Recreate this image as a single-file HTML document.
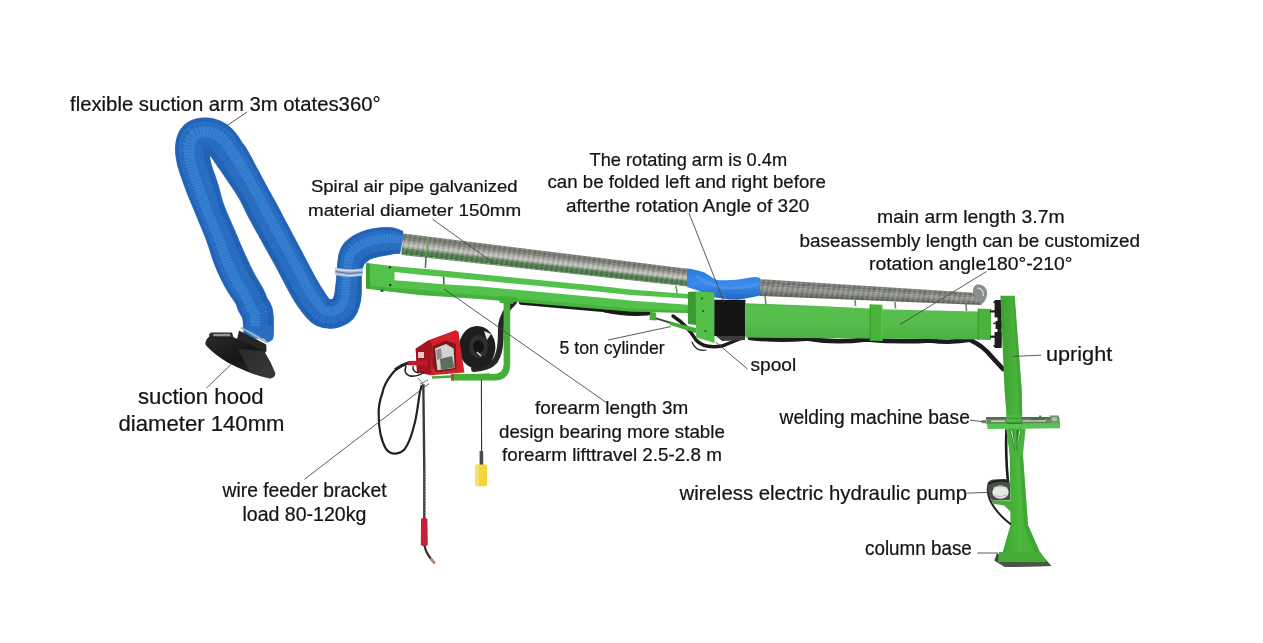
<!DOCTYPE html>
<html lang="en">
<head>
<meta charset="utf-8">
<title>Welding boom arm diagram</title>
<style>
html,body{margin:0;padding:0;background:#fff;overflow:hidden;}
svg{display:block;will-change:transform;}
text{font-family:"Liberation Sans","DejaVu Sans",sans-serif;fill:#141414;stroke:#141414;stroke-width:0.22px;}
.ld{stroke:#4a4a4a;stroke-width:0.9;fill:none;}
</style>
</head>
<body>
<svg width="1263" height="643" viewBox="0 0 1263 643">
<defs>
<linearGradient id="gpipe" x1="0" y1="0" x2="0" y2="1">
<stop offset="0" stop-color="#8e908a"/><stop offset="0.2" stop-color="#bcbcb3"/><stop offset="0.48" stop-color="#a6a9a0"/><stop offset="0.72" stop-color="#7e877a"/><stop offset="0.9" stop-color="#5f7360"/><stop offset="1" stop-color="#708872"/>
</linearGradient>
<linearGradient id="garm" x1="0" y1="0" x2="0" y2="1">
<stop offset="0" stop-color="#4db446"/><stop offset="0.08" stop-color="#58c04f"/><stop offset="0.6" stop-color="#54bc4b"/><stop offset="1" stop-color="#49b041"/>
</linearGradient>
<linearGradient id="gcol" x1="0" y1="0" x2="1" y2="0">
<stop offset="0" stop-color="#3c9f31"/><stop offset="0.45" stop-color="#4cb83c"/><stop offset="1" stop-color="#44ad37"/>
</linearGradient>
<linearGradient id="gblue" x1="0" y1="0" x2="0" y2="1">
<stop offset="0" stop-color="#2a78dc"/><stop offset="0.5" stop-color="#3a8cec"/><stop offset="1" stop-color="#2467c4"/>
</linearGradient>
<linearGradient id="ghood" x1="0" y1="0" x2="1" y2="1">
<stop offset="0" stop-color="#2a2a2a"/><stop offset="0.5" stop-color="#161616"/><stop offset="1" stop-color="#333"/>
</linearGradient>
<pattern id="spiral" width="5" height="30" patternUnits="userSpaceOnUse" patternTransform="rotate(12)">
<rect x="0" y="0" width="1.1" height="30" fill="#4a4e46" fill-opacity="0.22"/>
<rect x="2.4" y="0" width="0.9" height="30" fill="#f0f0ea" fill-opacity="0.25"/>
</pattern>
</defs>
<rect width="1263" height="643" fill="#fff"/>

<!-- ===== black cables behind arm ===== -->
<g fill="none" stroke="#1b1b1b" stroke-linecap="round">
<path d="M521 302.5 L560 306 L600 309.6 L630 312 L650 313" stroke-width="4.4"/>
<path d="M605 311 Q625 315.5 647 314" stroke-width="3.2"/>
<path d="M673 316 Q688 326 696 340 Q704 349 722 346 L742 338" stroke-width="3.4"/>
<path d="M692 342 Q696 352 706 350" stroke-width="1.2"/>
<path d="M750 338 Q780 341 806 338.6 Q835 343.6 866 339.4 Q900 342.6 930 340.4 Q950 343.4 972 339.6" stroke-width="4.6"/>
<path d="M971 340.5 Q983 346 991 356 L1003 369" stroke-width="4.6"/>
<path d="M514 302 Q503 312 501 325 L500.6 340 Q500 354 495 361 Q489 368 474 369" stroke-width="5.8" stroke="#262626"/>
<path d="M1006.4 430 Q1005.4 455 1008 482" stroke-width="2.6"/>

</g>

<!-- ===== galvanized pipe 1 ===== -->
<g id="pipe1">
<polygon points="401.6,233.2 687.5,268.7 687.5,270.5 401.6,235.4" fill="#80837c"/>
<polygon points="401.6,234.9 687.5,270.1 687.5,272.6 401.6,238.0" fill="#70746d"/>
<polygon points="401.6,237.6 687.5,272.3 687.5,274.4 401.6,240.2" fill="#7e817a"/>
<polygon points="401.6,239.7 687.5,274.0 687.5,276.2 401.6,242.4" fill="#9a9c96"/>
<polygon points="401.6,241.9 687.5,275.8 687.5,278.0 401.6,244.5" fill="#b4b6b0"/>
<polygon points="401.6,244.1 687.5,277.6 687.5,279.4 401.6,246.3" fill="#c2c4bf"/>
<polygon points="401.6,245.8 687.5,279.0 687.5,280.6 401.6,247.8" fill="#a3ad9f"/>
<polygon points="401.6,247.4 687.5,280.3 687.5,281.9 401.6,249.3" fill="#6b8a68"/>
<polygon points="401.6,248.9 687.5,281.5 687.5,284.4 401.6,252.4" fill="#4b774a"/>
<polygon points="401.6,251.9 687.5,284.0 687.5,285.8 401.6,254.1" fill="#437043"/>
<polygon points="401.6,253.7 687.5,285.4 687.5,286.5 401.6,255.0" fill="#6a8f69"/>
<polygon points="401.6,233.2 687.5,268.7 687.5,286.5 401.6,255.0" fill="url(#spiral)"/>
</g>
<!-- pipe 2 -->
<g id="pipe2">
<polygon points="760.0,279.2 981.5,293.3 981.5,294.7 760.0,281.2" fill="#7b7e78"/>
<polygon points="760.0,280.9 981.5,294.5 981.5,296.5 760.0,283.7" fill="#6e716b"/>
<polygon points="760.0,283.4 981.5,296.2 981.5,298.2 760.0,286.3" fill="#7f827c"/>
<polygon points="760.0,285.9 981.5,298.0 981.5,300.0 760.0,288.8" fill="#92958f"/>
<polygon points="760.0,288.4 981.5,299.7 981.5,301.7 760.0,291.3" fill="#8a8d87"/>
<polygon points="760.0,291.0 981.5,301.5 981.5,303.5 760.0,293.8" fill="#70746e"/>
<polygon points="760.0,293.5 981.5,303.2 981.5,305.0 760.0,296.0" fill="#5f645e"/>
<polygon points="760.0,279.2 981.5,293.3 981.5,305.0 760.0,296.0" fill="url(#spiral)"/>
</g>
<g id="pipe2end">
<path d="M973 293 Q972.4 285.4 977.6 284.2 Q986.6 284.4 987.2 293.5 Q986.6 300.6 981.5 304.4 L978 301 Z" fill="#8b8f8c"/>
<path d="M977.5 288 Q983 288 983.5 296" fill="none" stroke="#e6e8e6" stroke-width="1.2"/>
</g>
<!-- pipe supports -->
<g stroke="#6f8a6b" stroke-width="1.6" fill="none">
<line x1="765" y1="296" x2="766" y2="304"/><line x1="855" y1="300" x2="855.5" y2="306"/><line x1="895" y1="302" x2="895.5" y2="308.5"/><line x1="966" y1="304" x2="966.5" y2="311"/>
</g>
<g stroke="#4db53c" stroke-width="1.6" fill="none">
<line x1="428.6" y1="237" x2="426" y2="256" stroke-width="1.3"/><line x1="426" y1="256" x2="425.4" y2="268" stroke="#4a6a48" stroke-width="1.5"/><line x1="676" y1="286" x2="677" y2="293"/>
</g>

<!-- blue connector -->
<path d="M687 268.4 Q690 268.6 693.3 269.4 Q699 270.4 704 272.3 L710 276 Q713 278.6 716.2 279.8 Q721 280.6 726 280.2 L736.7 279.8 L750.7 277.4 Q756 276.6 760.2 278 L760.2 295.6 Q756 296.4 750.7 297.5 Q744 299 736.7 299.4 Q729 299.4 722.7 298.5 Q715 297.8 708.7 296.1 Q703 294 699.3 291 Q694 289.2 687 287 Z" fill="url(#gblue)"/>
<path d="M696 276 Q712 288 730 288 Q745 288 757 285" fill="none" stroke="#5a9cf0" stroke-opacity="0.55" stroke-width="3"/>


<g id="hose">
<path d="M244.0 337.9 244.0 336.7 273.1 336.9 273.0 338.1ZM244.0 336.7 243.9 335.4 273.1 335.8 273.1 336.9ZM243.9 335.4 243.9 334.2 273.2 334.7 273.1 335.8ZM243.9 334.2 243.9 333.0 273.3 333.5 273.2 334.7ZM243.9 333.0 243.8 331.9 273.3 332.3 273.3 333.5ZM243.8 331.9 243.8 330.8 273.4 331.0 273.3 332.3ZM243.8 330.8 243.7 329.8 273.4 329.6 273.4 331.0ZM243.7 329.8 243.7 328.7 273.5 328.2 273.4 329.6ZM243.7 328.7 243.6 327.7 273.5 326.8 273.5 328.2ZM243.6 327.7 243.5 326.6 273.5 325.4 273.5 326.8ZM243.5 326.6 243.4 325.3 273.5 324.1 273.5 325.4ZM243.4 325.3 243.3 324.0 273.5 322.7 273.5 324.1ZM243.3 324.0 243.2 322.6 273.5 321.2 273.5 322.7ZM243.2 322.6 243.1 321.3 273.5 319.7 273.5 321.2ZM243.1 321.3 242.9 320.1 273.4 318.0 273.5 319.7ZM242.9 320.1 242.8 319.0 273.3 316.3 273.4 318.0ZM242.8 319.0 242.6 318.1 273.2 314.6 273.3 316.3ZM242.6 318.1 242.5 317.3 273.0 312.7 273.2 314.6ZM242.5 317.3 242.4 316.8 272.7 310.8 273.0 312.7ZM242.4 316.8 242.3 316.7 272.3 308.7 272.7 310.8ZM242.3 316.7 242.4 316.9 271.6 306.5 272.3 308.7ZM242.4 316.9 242.5 317.3 270.7 304.3 271.6 306.5ZM242.5 317.3 242.6 317.5 269.8 302.5 270.7 304.3ZM242.6 317.5 242.6 317.6 268.9 300.9 269.8 302.5ZM242.6 317.6 242.5 317.4 268.1 299.7 268.9 300.9ZM242.5 317.4 242.2 316.9 267.5 298.9 268.1 299.7ZM242.2 316.9 241.6 316.1 267.1 298.3 267.5 298.9ZM241.6 316.1 240.8 314.9 266.9 298.1 267.1 298.3ZM240.8 314.9 239.9 313.4 266.9 298.1 266.9 298.1ZM239.9 313.4 239.0 311.8 267.0 298.2 266.9 298.1ZM239.0 311.8 238.3 310.2 267.0 298.2 267.0 298.2ZM238.3 310.2 237.8 308.8 266.9 298.1 267.0 298.2ZM237.8 308.8 237.4 307.6 266.8 297.8 266.9 298.1ZM237.4 307.6 237.1 306.7 266.6 297.2 266.8 297.8ZM237.1 306.7 236.9 306.1 266.3 296.3 266.6 297.2ZM236.9 306.1 236.8 305.6 265.9 295.2 266.3 296.3ZM236.8 305.6 236.6 305.2 265.4 293.8 265.9 295.2ZM236.6 305.2 236.5 304.8 264.7 292.3 265.4 293.8ZM236.5 304.8 236.2 304.3 264.0 290.6 264.7 292.3ZM236.2 304.3 235.9 303.7 263.1 288.9 264.0 290.6ZM235.9 303.7 235.4 302.9 262.2 287.1 263.1 288.9ZM235.4 302.9 234.7 301.8 261.2 285.4 262.2 287.1ZM234.7 301.8 233.8 300.5 260.1 283.7 261.2 285.4ZM233.8 300.5 232.8 299.0 259.1 282.0 260.1 283.7ZM232.8 299.0 231.6 297.4 258.1 280.3 259.1 282.0ZM231.6 297.4 230.5 295.7 257.1 278.6 258.1 280.3ZM230.5 295.7 229.2 293.8 256.1 277.0 257.1 278.6ZM229.2 293.8 227.9 291.8 255.2 275.4 256.1 277.0ZM227.9 291.8 226.7 289.7 254.4 273.9 255.2 275.4ZM226.7 289.7 225.4 287.6 253.6 272.4 254.4 273.9ZM225.4 287.6 224.3 285.6 252.7 270.7 253.6 272.4ZM224.3 285.6 223.3 283.6 251.9 269.0 252.7 270.7ZM223.3 283.6 222.2 281.6 251.0 267.3 251.9 269.0ZM222.2 281.6 221.2 279.5 250.1 265.5 251.0 267.3ZM221.2 279.5 220.2 277.5 249.3 263.6 250.1 265.5ZM220.2 277.5 219.2 275.3 248.4 261.8 249.3 263.6ZM219.2 275.3 218.2 273.1 247.5 259.8 248.4 261.8ZM218.2 273.1 217.2 270.9 246.6 257.9 247.5 259.8ZM217.2 270.9 216.2 268.6 245.7 255.8 246.6 257.9ZM216.2 268.6 215.3 266.2 244.7 253.8 245.7 255.8ZM215.3 266.2 214.3 263.7 243.8 251.7 244.7 253.8ZM214.3 263.7 213.3 261.1 242.9 249.5 243.8 251.7ZM213.3 261.1 212.4 258.5 241.9 247.3 242.9 249.5ZM212.4 258.5 211.6 255.9 240.8 244.9 241.9 247.3ZM211.6 255.9 210.7 253.2 239.8 242.4 240.8 244.9ZM210.7 253.2 209.9 250.6 238.7 239.9 239.8 242.4ZM209.9 250.6 209.0 248.0 237.7 237.3 238.7 239.9ZM209.0 248.0 208.2 245.5 236.6 234.7 237.7 237.3ZM208.2 245.5 207.3 243.0 235.4 232.1 236.6 234.7ZM207.3 243.0 206.5 240.6 234.3 229.4 235.4 232.1ZM206.5 240.6 205.6 238.1 233.2 226.8 234.3 229.4ZM205.6 238.1 204.6 235.7 232.0 224.2 233.2 226.8ZM204.6 235.7 203.6 233.1 230.9 221.6 232.0 224.2ZM203.6 233.1 202.5 230.5 229.7 219.0 230.9 221.6ZM202.5 230.5 201.5 228.0 228.6 216.4 229.7 219.0ZM201.5 228.0 200.4 225.4 227.5 213.9 228.6 216.4ZM200.4 225.4 199.3 222.8 226.4 211.5 227.5 213.9ZM199.3 222.8 198.3 220.3 225.5 209.1 226.4 211.5ZM198.3 220.3 197.3 217.8 224.6 206.8 225.5 209.1ZM197.3 217.8 196.2 215.3 223.8 204.7 224.6 206.8ZM196.2 215.3 195.3 213.0 223.0 202.6 223.8 204.7ZM195.3 213.0 194.4 210.8 222.4 200.6 223.0 202.6ZM194.4 210.8 193.5 208.6 221.8 198.6 222.4 200.6ZM193.5 208.6 192.6 206.6 221.3 196.7 221.8 198.6ZM192.6 206.6 191.8 204.6 220.8 194.8 221.3 196.7ZM191.8 204.6 190.9 202.7 220.3 192.8 220.8 194.8ZM190.9 202.7 190.2 200.8 219.8 190.9 220.3 192.8ZM190.2 200.8 189.4 199.0 219.3 188.9 219.8 190.9ZM189.4 199.0 188.6 197.1 218.7 186.8 219.3 188.9ZM188.6 197.1 187.9 195.3 218.1 184.7 218.7 186.8ZM187.9 195.3 187.1 193.3 217.4 182.6 218.1 184.7ZM187.1 193.3 186.4 191.3 216.7 180.4 217.4 182.6ZM186.4 191.3 185.6 189.2 216.0 178.3 216.7 180.4ZM185.6 189.2 184.8 187.1 215.2 176.1 216.0 178.3ZM184.8 187.1 184.0 184.9 214.5 174.1 215.2 176.1ZM184.0 184.9 183.2 182.8 213.8 172.0 214.5 174.1ZM183.2 182.8 182.5 180.7 213.1 170.1 213.8 172.0ZM182.5 180.7 181.8 178.7 212.5 168.3 213.1 170.1ZM181.8 178.7 181.1 176.7 212.0 166.6 212.5 168.3ZM181.1 176.7 180.5 174.9 211.5 165.1 212.0 166.6ZM180.5 174.9 179.9 173.2 211.1 163.7 211.5 165.1ZM179.9 173.2 179.4 171.7 210.8 162.5 211.1 163.7ZM179.4 171.7 179.0 170.2 210.5 161.3 210.8 162.5ZM179.0 170.2 178.5 168.8 210.3 160.4 210.5 161.3ZM178.5 168.8 178.1 167.4 210.1 159.5 210.3 160.4ZM178.1 167.4 177.7 165.9 210.0 158.7 210.1 159.5ZM177.7 165.9 177.4 164.5 209.9 158.0 210.0 158.7ZM177.4 164.5 177.1 163.1 209.8 157.3 209.9 158.0ZM177.1 163.1 176.8 161.6 209.8 156.6 209.8 157.3ZM176.8 161.6 176.5 160.2 209.7 155.8 209.8 156.6ZM176.5 160.2 176.2 158.7 209.7 155.0 209.7 155.8ZM176.2 158.7 176.0 157.1 209.7 154.3 209.7 155.0ZM176.0 157.1 175.8 155.6 209.7 153.5 209.7 154.3ZM175.8 155.6 175.7 154.1 209.8 152.8 209.7 153.5ZM175.7 154.1 175.5 152.5 209.8 152.1 209.8 152.8ZM175.5 152.5 175.5 150.9 209.9 151.4 209.8 152.1ZM175.5 150.9 175.4 149.3 210.0 150.9 209.9 151.4ZM175.4 149.3 175.4 147.7 210.1 150.3 210.0 150.9ZM175.4 147.7 175.5 146.1 210.2 149.9 210.1 150.3ZM175.5 146.1 175.7 144.5 210.3 149.5 210.2 149.9ZM175.7 144.5 175.8 143.1 210.5 148.9 210.3 149.5ZM175.8 143.1 176.1 141.7 210.6 148.3 210.5 148.9ZM176.1 141.7 176.3 140.2 210.7 147.9 210.6 148.3ZM176.3 140.2 176.7 138.6 210.8 147.6 210.7 147.9ZM176.7 138.6 177.1 136.9 210.9 147.5 210.8 147.6ZM177.1 136.9 177.8 135.1 210.9 147.6 210.9 147.5ZM177.8 135.1 178.6 133.1 210.8 147.9 210.9 147.6ZM178.6 133.1 179.6 131.0 210.5 148.5 210.8 147.9ZM179.6 131.0 181.1 128.7 209.9 149.3 210.5 148.5ZM181.1 128.7 182.9 126.4 209.1 150.4 209.9 149.3ZM182.9 126.4 185.0 124.4 208.1 151.3 209.1 150.4ZM185.0 124.4 187.2 122.7 207.2 152.0 208.1 151.3ZM187.2 122.7 189.4 121.4 206.4 152.5 207.2 152.0ZM189.4 121.4 191.5 120.4 205.8 152.8 206.4 152.5ZM191.5 120.4 193.5 119.7 205.4 152.9 205.8 152.8ZM193.5 119.7 195.4 119.1 205.1 152.9 205.4 152.9ZM195.4 119.1 197.1 118.7 205.0 152.9 205.1 152.9ZM197.1 118.7 198.8 118.4 205.0 152.9 205.0 152.9ZM198.8 118.4 200.4 118.1 205.1 152.9 205.0 152.9ZM200.4 118.1 202.0 118.0 205.2 152.8 205.1 152.9ZM202.0 118.0 203.8 117.9 205.1 152.8 205.2 152.8ZM203.8 117.9 205.6 117.8 205.0 152.8 205.1 152.8ZM205.6 117.8 207.4 117.9 205.0 152.8 205.0 152.8ZM207.4 117.9 209.1 118.1 205.1 152.9 205.0 152.8ZM209.1 118.1 210.8 118.3 205.3 152.9 205.1 152.9ZM210.8 118.3 212.5 118.6 205.5 152.9 205.3 152.9ZM212.5 118.6 214.1 118.9 205.7 153.0 205.5 152.9ZM214.1 118.9 215.7 119.4 206.0 153.0 205.7 153.0ZM215.7 119.4 217.2 119.9 206.2 153.1 206.0 153.0ZM217.2 119.9 218.7 120.4 206.5 153.2 206.2 153.1ZM218.7 120.4 220.0 120.9 207.0 153.4 206.5 153.2ZM220.0 120.9 221.2 121.5 207.4 153.5 207.0 153.4ZM221.2 121.5 222.6 122.1 207.8 153.6 207.4 153.5ZM222.6 122.1 224.0 122.9 208.0 153.6 207.8 153.6ZM224.0 122.9 225.5 123.8 208.1 153.7 208.0 153.6ZM225.5 123.8 227.1 124.8 208.3 153.7 208.1 153.7ZM227.1 124.8 228.6 126.0 208.4 153.7 208.3 153.7ZM228.6 126.0 230.2 127.2 208.5 153.7 208.4 153.7ZM230.2 127.2 231.7 128.6 208.6 153.8 208.5 153.7ZM231.7 128.6 233.2 130.2 208.8 153.8 208.6 153.8ZM233.2 130.2 234.8 131.9 209.0 154.0 208.8 153.8ZM234.8 131.9 236.1 133.7 209.4 154.4 209.0 154.0ZM236.1 133.7 237.4 135.4 210.0 155.2 209.4 154.4ZM237.4 135.4 238.5 137.0 210.7 156.2 210.0 155.2ZM238.5 137.0 239.5 138.6 211.5 157.3 210.7 156.2ZM239.5 138.6 240.5 140.1 212.3 158.5 211.5 157.3ZM240.5 140.1 241.4 141.5 213.2 159.8 212.3 158.5ZM241.4 141.5 242.1 142.7 214.0 161.1 213.2 159.8ZM242.1 142.7 242.7 143.7 214.9 162.4 214.0 161.1ZM242.7 143.7 243.2 144.4 215.8 163.6 214.9 162.4ZM243.2 144.4 243.5 144.7 216.6 164.8 215.8 163.6ZM243.5 144.7 243.4 144.6 217.4 165.8 216.6 164.8ZM243.4 144.6 243.1 144.2 218.2 166.8 217.4 165.8ZM243.1 144.2 243.1 144.1 218.6 167.2 218.2 166.8ZM243.1 144.1 243.8 145.0 218.2 166.8 218.6 167.2ZM243.8 145.0 244.8 146.1 217.7 166.2 218.2 166.8ZM244.8 146.1 245.5 147.2 217.6 166.1 217.7 166.2ZM245.5 147.2 246.2 148.2 217.9 166.5 217.6 166.1ZM246.2 148.2 247.0 149.6 218.5 167.4 217.9 166.5ZM247.0 149.6 248.0 151.2 219.4 168.8 218.5 167.4ZM248.0 151.2 249.2 153.4 220.8 170.7 219.4 168.8ZM249.2 153.4 250.6 156.1 222.4 173.2 220.8 170.7ZM250.6 156.1 252.3 159.1 224.3 176.0 222.4 173.2ZM252.3 159.1 254.0 162.4 226.4 179.1 224.3 176.0ZM254.0 162.4 255.9 166.0 228.6 182.3 226.4 179.1ZM255.9 166.0 257.8 169.5 230.8 185.6 228.6 182.3ZM257.8 169.5 259.7 173.1 233.0 188.9 230.8 185.6ZM259.7 173.1 261.5 176.5 235.1 192.0 233.0 188.9ZM261.5 176.5 263.2 179.7 236.9 194.9 235.1 192.0ZM263.2 179.7 264.7 182.5 238.5 197.5 236.9 194.9ZM264.7 182.5 266.1 185.1 239.8 199.7 238.5 197.5ZM266.1 185.1 267.4 187.4 240.9 201.8 239.8 199.7ZM267.4 187.4 268.5 189.5 241.9 203.7 240.9 201.8ZM268.5 189.5 269.7 191.5 242.8 205.5 241.9 203.7ZM269.7 191.5 270.7 193.3 243.7 207.3 242.8 205.5ZM270.7 193.3 271.7 195.2 244.5 209.1 243.7 207.3ZM271.7 195.2 272.7 196.9 245.4 211.0 244.5 209.1ZM272.7 196.9 273.7 198.7 246.3 212.9 245.4 211.0ZM273.7 198.7 274.8 200.6 247.4 215.0 246.3 212.9ZM274.8 200.6 275.9 202.7 248.5 217.3 247.4 215.0ZM275.9 202.7 277.1 205.0 249.8 219.6 248.5 217.3ZM277.1 205.0 278.4 207.3 251.1 222.0 249.8 219.6ZM278.4 207.3 279.7 209.8 252.4 224.5 251.1 222.0ZM279.7 209.8 281.0 212.3 253.8 227.0 252.4 224.5ZM281.0 212.3 282.3 214.9 255.2 229.5 253.8 227.0ZM282.3 214.9 283.7 217.4 256.6 232.1 255.2 229.5ZM283.7 217.4 285.0 220.0 258.1 234.6 256.6 232.1ZM285.0 220.0 286.4 222.6 259.5 237.2 258.1 234.6ZM286.4 222.6 287.8 225.2 260.9 239.8 259.5 237.2ZM287.8 225.2 289.1 227.7 262.3 242.3 260.9 239.8ZM289.1 227.7 290.4 230.2 263.7 244.8 262.3 242.3ZM290.4 230.2 291.8 232.8 265.1 247.4 263.7 244.8ZM291.8 232.8 293.2 235.4 266.6 249.9 265.1 247.4ZM293.2 235.4 294.6 238.0 268.0 252.5 266.6 249.9ZM294.6 238.0 295.9 240.6 269.4 255.1 268.0 252.5ZM295.9 240.6 297.3 243.1 270.8 257.6 269.4 255.1ZM297.3 243.1 298.7 245.7 272.2 260.1 270.8 257.6ZM298.7 245.7 300.0 248.2 273.6 262.5 272.2 260.1ZM300.0 248.2 301.3 250.6 274.8 264.8 273.6 262.5ZM301.3 250.6 302.5 252.9 276.1 267.1 274.8 264.8ZM302.5 252.9 303.7 255.2 277.2 269.2 276.1 267.1ZM303.7 255.2 304.9 257.4 278.3 271.3 277.2 269.2ZM304.9 257.4 306.0 259.6 279.4 273.4 278.3 271.3ZM306.0 259.6 307.1 261.7 280.5 275.4 279.4 273.4ZM307.1 261.7 308.1 263.7 281.5 277.4 280.5 275.4ZM308.1 263.7 309.1 265.6 282.5 279.4 281.5 277.4ZM309.1 265.6 310.1 267.5 283.6 281.4 282.5 279.4ZM310.1 267.5 311.1 269.3 284.6 283.3 283.6 281.4ZM311.1 269.3 312.0 271.1 285.6 285.3 284.6 283.3ZM312.0 271.1 313.0 272.8 286.6 287.2 285.6 285.3ZM313.0 272.8 313.9 274.6 287.6 288.9 286.6 287.2ZM313.9 274.6 314.9 276.3 288.5 290.7 287.6 288.9ZM314.9 276.3 315.8 277.9 289.4 292.3 288.5 290.7ZM315.8 277.9 316.6 279.5 290.3 294.0 289.4 292.3ZM316.6 279.5 317.5 281.0 291.3 295.7 290.3 294.0ZM317.5 281.0 318.3 282.4 292.2 297.4 291.3 295.7ZM318.3 282.4 319.1 283.8 293.2 299.1 292.2 297.4ZM319.1 283.8 319.9 285.1 294.2 300.8 293.2 299.1ZM319.9 285.1 320.7 286.4 295.3 302.5 294.2 300.8ZM320.7 286.4 321.5 287.8 296.5 304.2 295.3 302.5ZM321.5 287.8 322.5 289.3 297.6 305.9 296.5 304.2ZM322.5 289.3 323.5 290.8 298.7 307.5 297.6 305.9ZM323.5 290.8 324.5 292.4 300.0 309.3 298.7 307.5ZM324.5 292.4 325.5 293.9 301.3 311.0 300.0 309.3ZM325.5 293.9 326.4 295.3 302.6 312.8 301.3 311.0ZM326.4 295.3 327.3 296.6 304.0 314.5 302.6 312.8ZM327.3 296.6 328.2 297.8 305.4 316.2 304.0 314.5ZM328.2 297.8 328.9 298.7 306.9 317.9 305.4 316.2ZM328.9 298.7 329.4 299.4 308.5 319.6 306.9 317.9ZM329.4 299.4 329.7 299.7 310.3 321.3 308.5 319.6ZM329.7 299.7 329.7 299.8 312.3 322.9 310.3 321.3ZM329.7 299.8 329.5 299.7 314.4 324.3 312.3 322.9ZM329.5 299.7 329.3 299.6 316.5 325.4 314.4 324.3ZM329.3 299.6 329.1 299.5 318.6 326.3 316.5 325.4ZM329.1 299.5 328.9 299.5 320.6 326.9 318.6 326.3ZM328.9 299.5 328.9 299.5 322.4 327.4 320.6 326.9ZM328.9 299.5 329.1 299.6 324.0 327.7 322.4 327.4ZM329.1 299.6 329.5 299.6 325.2 327.9 324.0 327.7ZM329.5 299.6 330.2 299.8 326.2 328.0 325.2 327.9ZM330.2 299.8 330.9 299.9 327.1 328.1 326.2 328.0ZM330.9 299.9 331.0 299.9 328.5 328.3 327.1 328.1ZM331.0 299.9 330.8 299.9 330.2 328.4 328.5 328.3ZM330.8 299.9 330.6 299.9 331.9 328.3 330.2 328.4ZM330.6 299.9 330.3 299.9 333.6 328.2 331.9 328.3ZM330.3 299.9 330.2 299.9 335.1 328.0 333.6 328.2ZM330.2 299.9 330.1 299.9 336.5 327.7 335.1 328.0ZM330.1 299.9 330.2 299.9 337.8 327.4 336.5 327.7ZM330.2 299.9 330.4 299.9 338.9 327.1 337.8 327.4ZM330.4 299.9 330.7 299.7 339.9 326.7 338.9 327.1ZM330.7 299.7 331.2 299.6 340.8 326.4 339.9 326.7ZM331.2 299.6 331.8 299.4 341.6 326.1 340.8 326.4ZM331.8 299.4 332.4 299.2 342.5 325.8 341.6 326.1ZM332.4 299.2 332.8 299.0 343.6 325.3 342.5 325.8ZM332.8 299.0 333.1 298.9 344.8 324.8 343.6 325.3ZM333.1 298.9 333.2 298.9 346.1 324.1 344.8 324.8ZM333.2 298.9 333.3 298.9 347.5 323.3 346.1 324.1ZM333.3 298.9 333.2 299.0 349.1 322.3 347.5 323.3ZM333.2 299.0 333.0 299.2 350.6 321.1 349.1 322.3ZM333.0 299.2 332.7 299.5 352.2 319.7 350.6 321.1ZM332.7 299.5 332.3 299.9 353.7 318.1 352.2 319.7ZM332.3 299.9 332.1 300.2 354.9 316.4 353.7 318.1ZM332.1 300.2 332.1 300.3 355.9 314.8 354.9 316.4ZM332.1 300.3 332.2 300.2 356.8 313.2 355.9 314.8ZM332.2 300.2 332.4 300.0 357.5 311.7 356.8 313.2ZM332.4 300.0 332.7 299.6 358.0 310.2 357.5 311.7ZM332.7 299.6 332.9 299.1 358.5 308.8 358.0 310.2ZM332.9 299.1 333.2 298.5 359.0 307.4 358.5 308.8ZM333.2 298.5 333.5 297.8 359.4 306.1 359.0 307.4ZM333.5 297.8 333.7 297.1 359.7 304.8 359.4 306.1ZM333.7 297.1 334.0 296.4 360.0 303.6 359.7 304.8ZM334.0 296.4 334.2 295.8 360.3 302.3 360.0 303.6ZM334.2 295.8 334.3 295.4 360.6 300.9 360.3 302.3ZM334.3 295.4 334.4 294.9 360.8 299.6 360.6 300.9ZM334.4 294.9 334.6 294.5 361.0 298.3 360.8 299.6ZM334.6 294.5 334.7 293.9 361.1 297.0 361.0 298.3ZM334.7 293.9 334.8 293.1 361.2 295.8 361.1 297.0ZM334.8 293.1 334.9 292.3 361.3 294.6 361.2 295.8ZM334.9 292.3 335.0 291.2 361.3 293.4 361.3 294.6ZM335.0 291.2 335.2 290.0 361.4 292.1 361.3 293.4ZM335.2 290.0 335.3 288.7 361.5 290.7 361.4 292.1ZM335.3 288.7 335.5 287.3 361.5 289.0 361.5 290.7ZM335.5 287.3 335.7 285.7 361.5 287.0 361.5 289.0ZM335.7 285.7 335.9 283.9 361.5 285.0 361.5 287.0ZM335.9 283.9 336.1 282.0 361.5 283.0 361.5 285.0ZM336.1 282.0 336.3 279.9 361.4 280.9 361.5 283.0ZM336.3 279.9 336.5 277.8 361.4 278.9 361.4 280.9ZM336.5 277.8 336.7 275.7 361.4 276.9 361.4 278.9ZM336.7 275.7 336.9 273.7 361.4 275.1 361.4 276.9ZM336.9 273.7 337.0 271.7 361.5 273.6 361.4 275.1ZM337.0 271.7 337.2 269.8 361.6 272.2 361.5 273.6ZM337.2 269.8 337.3 268.2 361.8 271.0 361.6 272.2ZM337.3 268.2 337.5 266.6 362.0 269.8 361.8 271.0ZM337.5 266.6 337.5 265.2 362.2 268.8 362.0 269.8ZM337.5 265.2 337.6 263.7 362.5 267.8 362.2 268.8ZM337.6 263.7 337.7 262.3 362.8 267.0 362.5 267.8ZM337.7 262.3 337.8 261.0 363.1 266.3 362.8 267.0ZM337.8 261.0 338.0 259.6 363.4 265.7 363.1 266.3ZM338.0 259.6 338.2 258.3 363.7 265.1 363.4 265.7ZM338.2 258.3 338.4 256.9 364.0 264.5 363.7 265.1ZM338.4 256.9 338.6 255.7 364.4 263.9 364.0 264.5ZM338.6 255.7 338.9 254.5 364.7 263.3 364.4 263.9ZM338.9 254.5 339.2 253.3 365.0 262.8 364.7 263.3ZM339.2 253.3 339.5 252.1 365.2 262.5 365.0 262.8ZM339.5 252.1 340.0 250.8 365.4 262.3 365.2 262.5ZM340.0 250.8 340.5 249.4 365.6 262.2 365.4 262.3ZM340.5 249.4 341.1 248.0 365.7 262.3 365.6 262.2ZM341.1 248.0 341.9 246.6 365.8 262.4 365.7 262.3ZM341.9 246.6 342.8 245.2 365.8 262.4 365.8 262.4ZM342.8 245.2 343.7 243.9 365.9 262.4 365.8 262.4ZM343.7 243.9 344.8 242.6 366.0 262.4 365.9 262.4ZM344.8 242.6 345.9 241.5 366.2 262.2 366.0 262.4ZM345.9 241.5 347.0 240.4 366.5 261.9 366.2 262.2ZM347.0 240.4 348.2 239.4 366.8 261.6 366.5 261.9ZM348.2 239.4 349.5 238.4 367.2 261.3 366.8 261.6ZM349.5 238.4 350.8 237.5 367.6 260.9 367.2 261.3ZM350.8 237.5 352.1 236.6 368.1 260.6 367.6 260.9ZM352.1 236.6 353.4 235.8 368.6 260.2 368.1 260.6ZM353.4 235.8 354.8 235.0 369.1 259.8 368.6 260.2ZM354.8 235.0 356.2 234.3 369.6 259.5 369.1 259.8ZM356.2 234.3 357.7 233.6 370.1 259.2 369.6 259.5ZM357.7 233.6 359.1 232.9 370.7 258.9 370.1 259.2ZM359.1 232.9 360.6 232.3 371.3 258.7 370.7 258.9ZM360.6 232.3 362.0 231.7 372.0 258.4 371.3 258.7ZM362.0 231.7 363.5 231.2 372.7 258.2 372.0 258.4ZM363.5 231.2 365.0 230.7 373.4 258.0 372.7 258.2ZM365.0 230.7 366.4 230.2 374.2 257.7 373.4 258.0ZM366.4 230.2 367.9 229.8 375.1 257.5 374.2 257.7ZM367.9 229.8 369.4 229.5 376.1 257.3 375.1 257.5ZM369.4 229.5 370.9 229.1 377.1 257.0 376.1 257.3ZM370.9 229.1 372.5 228.8 378.1 256.8 377.1 257.0ZM372.5 228.8 374.1 228.6 379.3 256.5 378.1 256.8ZM374.1 228.6 375.7 228.3 380.5 256.2 379.3 256.5ZM375.7 228.3 377.5 228.1 381.8 256.0 380.5 256.2ZM377.5 228.1 379.3 227.8 383.2 255.7 381.8 256.0ZM379.3 227.8 381.1 227.7 384.5 255.5 383.2 255.7ZM381.1 227.7 382.9 227.5 385.9 255.3 384.5 255.5ZM382.9 227.5 384.7 227.4 387.2 255.1 385.9 255.3ZM384.7 227.4 386.5 227.4 388.4 254.9 387.2 255.1ZM386.5 227.4 388.4 227.4 389.5 254.7 388.4 254.9ZM388.4 227.4 390.2 227.5 390.4 254.5 389.5 254.7ZM390.2 227.5 392.0 227.7 391.1 254.3 390.4 254.5ZM392.0 227.7 393.8 228.0 391.7 254.2 391.1 254.3ZM393.8 228.0 395.5 228.4 392.4 254.0 391.7 254.2ZM395.5 228.4 397.0 228.9 393.1 253.8 392.4 254.0ZM397.0 228.9 398.3 229.4 394.0 253.7 393.1 253.8ZM398.3 229.4 399.5 229.9 395.0 253.6 394.0 253.7ZM399.5 229.9 400.5 230.4 396.0 253.5 395.0 253.6ZM400.5 230.4 401.4 230.8 397.3 253.5 396.0 253.5ZM401.4 230.8 402.2 231.2 398.6 253.4 397.3 253.5ZM402.2 231.2 403.1 231.6 399.9 253.4 398.6 253.4Z" fill="#2363b6" stroke="#2363b6" stroke-width="0.6" stroke-linejoin="round"/>
<path d="M247.2 337.9 247.2 336.7 268.1 336.9 268.1 338.0ZM247.2 336.7 247.1 335.5 268.2 335.8 268.1 336.9ZM247.1 335.5 247.1 334.3 268.2 334.6 268.2 335.8ZM247.1 334.3 247.1 333.1 268.3 333.4 268.2 334.6ZM247.1 333.1 247.1 331.9 268.3 332.2 268.3 333.4ZM247.1 331.9 247.0 330.8 268.4 330.9 268.3 332.2ZM247.0 330.8 247.0 329.7 268.4 329.7 268.4 330.9ZM247.0 329.7 247.0 328.7 268.4 328.3 268.4 329.7ZM247.0 328.7 246.9 327.6 268.4 326.9 268.4 328.3ZM246.9 327.6 246.8 326.5 268.4 325.6 268.4 326.9ZM246.8 326.5 246.7 325.2 268.4 324.3 268.4 325.6ZM246.7 325.2 246.6 323.8 268.3 322.9 268.4 324.3ZM246.6 323.8 246.5 322.5 268.3 321.5 268.3 322.9ZM246.5 322.5 246.4 321.2 268.3 320.0 268.3 321.5ZM246.4 321.2 246.3 319.9 268.2 318.4 268.3 320.0ZM246.3 319.9 246.1 318.7 268.1 316.8 268.2 318.4ZM246.1 318.7 246.0 317.7 268.0 315.2 268.1 316.8ZM246.0 317.7 245.9 316.8 267.8 313.5 268.0 315.2ZM245.9 316.8 245.7 316.1 267.6 311.8 267.8 313.5ZM245.7 316.1 245.6 315.8 267.2 310.1 267.6 311.8ZM245.6 315.8 245.6 315.8 266.6 308.3 267.2 310.1ZM245.6 315.8 245.6 315.9 265.9 306.5 266.6 308.3ZM245.6 315.9 245.6 315.9 265.2 305.0 265.9 306.5ZM245.6 315.9 245.5 315.8 264.4 303.8 265.2 305.0ZM245.5 315.8 245.3 315.4 263.7 302.7 264.4 303.8ZM245.3 315.4 244.9 314.9 263.2 301.9 263.7 302.7ZM244.9 314.9 244.4 314.1 262.7 301.4 263.2 301.9ZM244.4 314.1 243.7 313.1 262.5 301.0 262.7 301.4ZM243.7 313.1 242.9 311.7 262.3 300.7 262.5 301.0ZM242.9 311.7 242.1 310.3 262.2 300.5 262.3 300.7ZM242.1 310.3 241.5 308.9 262.1 300.3 262.2 300.5ZM241.5 308.9 241.0 307.6 262.0 299.9 262.1 300.3ZM241.0 307.6 240.6 306.5 261.8 299.5 262.0 299.9ZM240.6 306.5 240.4 305.7 261.6 298.8 261.8 299.5ZM240.4 305.7 240.2 305.0 261.3 298.0 261.6 298.8ZM240.2 305.0 240.0 304.4 260.9 296.9 261.3 298.0ZM240.0 304.4 239.8 303.9 260.5 295.7 260.9 296.9ZM239.8 303.9 239.6 303.4 259.9 294.4 260.5 295.7ZM239.6 303.4 239.3 302.8 259.3 293.0 259.9 294.4ZM239.3 302.8 238.9 302.1 258.5 291.4 259.3 293.0ZM238.9 302.1 238.3 301.1 257.6 289.8 258.5 291.4ZM238.3 301.1 237.6 300.0 256.7 288.2 257.6 289.8ZM237.6 300.0 236.7 298.6 255.7 286.5 256.7 288.2ZM236.7 298.6 235.7 297.1 254.6 284.9 255.7 286.5ZM235.7 297.1 234.6 295.5 253.6 283.2 254.6 284.9ZM234.6 295.5 233.4 293.8 252.6 281.5 253.6 283.2ZM233.4 293.8 232.2 292.0 251.6 279.9 252.6 281.5ZM232.2 292.0 230.9 290.0 250.6 278.2 251.6 279.9ZM230.9 290.0 229.7 288.0 249.7 276.6 250.6 278.2ZM229.7 288.0 228.5 286.0 248.8 275.0 249.7 276.6ZM228.5 286.0 227.5 284.0 247.9 273.3 248.8 275.0ZM227.5 284.0 226.4 282.0 247.0 271.5 247.9 273.3ZM226.4 282.0 225.4 280.0 246.1 269.7 247.0 271.5ZM225.4 280.0 224.4 278.0 245.2 267.9 246.1 269.7ZM224.4 278.0 223.4 275.9 244.3 266.0 245.2 267.9ZM223.4 275.9 222.4 273.8 243.4 264.1 244.3 266.0ZM222.4 273.8 221.4 271.7 242.5 262.1 243.4 264.1ZM221.4 271.7 220.4 269.5 241.6 260.1 242.5 262.1ZM220.4 269.5 219.5 267.2 240.7 258.0 241.6 260.1ZM219.5 267.2 218.5 264.8 239.7 255.9 240.7 258.0ZM218.5 264.8 217.5 262.4 238.8 253.7 239.7 255.9ZM217.5 262.4 216.6 259.8 237.8 251.5 238.8 253.7ZM216.6 259.8 215.7 257.2 236.9 249.2 237.8 251.5ZM215.7 257.2 214.8 254.6 235.9 246.7 236.9 249.2ZM214.8 254.6 213.9 252.0 234.9 244.2 235.9 246.7ZM213.9 252.0 213.0 249.4 233.8 241.7 234.9 244.2ZM213.0 249.4 212.2 246.8 232.8 239.1 233.8 241.7ZM212.2 246.8 211.3 244.3 231.7 236.5 232.8 239.1ZM211.3 244.3 210.4 241.8 230.7 233.9 231.7 236.5ZM210.4 241.8 209.5 239.3 229.6 231.3 230.7 233.9ZM209.5 239.3 208.6 236.9 228.5 228.7 229.6 231.3ZM208.6 236.9 207.6 234.4 227.4 226.1 228.5 228.7ZM207.6 234.4 206.6 231.8 226.2 223.5 227.4 226.1ZM206.6 231.8 205.5 229.3 225.1 220.9 226.2 223.5ZM205.5 229.3 204.5 226.7 224.0 218.4 225.1 220.9ZM204.5 226.7 203.4 224.1 222.9 215.9 224.0 218.4ZM203.4 224.1 202.3 221.6 221.8 213.4 222.9 215.9ZM202.3 221.6 201.3 219.0 220.8 211.0 221.8 213.4ZM201.3 219.0 200.3 216.6 219.9 208.7 220.8 211.0ZM200.3 216.6 199.3 214.2 219.1 206.5 219.9 208.7ZM199.3 214.2 198.3 211.9 218.3 204.4 219.1 206.5ZM198.3 211.9 197.4 209.7 217.6 202.3 218.3 204.4ZM197.4 209.7 196.6 207.5 217.0 200.3 217.6 202.3ZM196.6 207.5 195.8 205.5 216.4 198.4 217.0 200.3ZM195.8 205.5 195.0 203.5 215.9 196.4 216.4 198.4ZM195.0 203.5 194.2 201.6 215.3 194.5 215.9 196.4ZM194.2 201.6 193.4 199.7 214.8 192.6 215.3 194.5ZM193.4 199.7 192.7 197.9 214.2 190.6 214.8 192.6ZM192.7 197.9 191.9 196.0 213.6 188.6 214.2 190.6ZM191.9 196.0 191.2 194.1 213.0 186.5 213.6 188.6ZM191.2 194.1 190.5 192.2 212.3 184.4 213.0 186.5ZM190.5 192.2 189.7 190.1 211.5 182.3 212.3 184.4ZM189.7 190.1 188.9 188.0 210.8 180.1 211.5 182.3ZM188.9 188.0 188.1 185.9 210.0 178.0 210.8 180.1ZM188.1 185.9 187.4 183.7 209.3 175.9 210.0 178.0ZM187.4 183.7 186.6 181.6 208.6 173.9 209.3 175.9ZM186.6 181.6 185.9 179.6 207.9 171.9 208.6 173.9ZM185.9 179.6 185.2 177.5 207.3 170.1 207.9 171.9ZM185.2 177.5 184.5 175.6 206.7 168.4 207.3 170.1ZM184.5 175.6 183.9 173.8 206.2 166.8 206.7 168.4ZM183.9 173.8 183.4 172.2 205.8 165.4 206.2 166.8ZM183.4 172.2 182.9 170.7 205.5 164.0 205.8 165.4ZM182.9 170.7 182.4 169.2 205.1 162.9 205.5 164.0ZM182.4 169.2 182.0 167.9 204.9 161.8 205.1 162.9ZM182.0 167.9 181.6 166.5 204.7 160.8 204.9 161.8ZM181.6 166.5 181.3 165.2 204.5 160.0 204.7 160.8ZM181.3 165.2 181.0 163.8 204.4 159.1 204.5 160.0ZM181.0 163.8 180.7 162.4 204.2 158.3 204.4 159.1ZM180.7 162.4 180.4 161.1 204.1 157.5 204.2 158.3ZM180.4 161.1 180.1 159.7 204.1 156.6 204.1 157.5ZM180.1 159.7 179.9 158.3 204.0 155.7 204.1 156.6ZM179.9 158.3 179.7 156.8 204.0 154.7 204.0 155.7ZM179.7 156.8 179.6 155.4 203.9 153.9 204.0 154.7ZM179.6 155.4 179.4 153.9 204.0 153.0 203.9 153.9ZM179.4 153.9 179.3 152.5 204.0 152.1 204.0 153.0ZM179.3 152.5 179.2 151.0 204.0 151.3 204.0 152.1ZM179.2 151.0 179.2 149.5 204.1 150.6 204.0 151.3ZM179.2 149.5 179.3 148.0 204.2 149.9 204.1 150.6ZM179.3 148.0 179.3 146.5 204.3 149.3 204.2 149.9ZM179.3 146.5 179.5 145.1 204.4 148.6 204.3 149.3ZM179.5 145.1 179.7 143.8 204.6 147.9 204.4 148.6ZM179.7 143.8 179.9 142.5 204.7 147.2 204.6 147.9ZM179.9 142.5 180.1 141.1 204.9 146.6 204.7 147.2ZM180.1 141.1 180.4 139.6 205.0 146.1 204.9 146.6ZM180.4 139.6 180.9 138.1 205.2 145.7 205.0 146.1ZM180.9 138.1 181.4 136.4 205.3 145.5 205.2 145.7ZM181.4 136.4 182.1 134.7 205.3 145.4 205.3 145.5ZM182.1 134.7 183.0 132.9 205.2 145.5 205.3 145.4ZM183.0 132.9 184.2 131.0 205.0 145.8 205.2 145.5ZM184.2 131.0 185.8 129.1 204.7 146.3 205.0 145.8ZM185.8 129.1 187.6 127.3 204.2 146.8 204.7 146.3ZM187.6 127.3 189.4 125.9 203.8 147.1 204.2 146.8ZM189.4 125.9 191.3 124.8 203.5 147.2 203.8 147.1ZM191.3 124.8 193.1 124.0 203.4 147.3 203.5 147.2ZM193.1 124.0 194.8 123.3 203.3 147.2 203.4 147.3ZM194.8 123.3 196.4 122.8 203.5 147.2 203.3 147.2ZM196.4 122.8 198.0 122.4 203.7 147.1 203.5 147.2ZM198.0 122.4 199.5 122.2 204.0 147.0 203.7 147.1ZM199.5 122.2 200.9 122.0 204.3 147.0 204.0 147.0ZM200.9 122.0 202.4 121.8 204.6 146.9 204.3 147.0ZM202.4 121.8 204.0 121.7 204.9 146.9 204.6 146.9ZM204.0 121.7 205.6 121.7 205.1 146.9 204.9 146.9ZM205.6 121.7 207.1 121.8 205.4 146.9 205.1 146.9ZM207.1 121.8 208.7 121.9 205.8 146.9 205.4 146.9ZM208.7 121.9 210.2 122.1 206.2 147.0 205.8 146.9ZM210.2 122.1 211.7 122.4 206.7 147.1 206.2 147.0ZM211.7 122.4 213.2 122.7 207.1 147.2 206.7 147.1ZM213.2 122.7 214.6 123.1 207.6 147.3 207.1 147.2ZM214.6 123.1 216.0 123.5 208.1 147.5 207.6 147.3ZM216.0 123.5 217.4 124.0 208.6 147.6 208.1 147.5ZM217.4 124.0 218.5 124.5 209.2 147.8 208.6 147.6ZM218.5 124.5 219.7 125.0 209.8 148.1 209.2 147.8ZM219.7 125.0 220.9 125.6 210.3 148.2 209.8 148.1ZM220.9 125.6 222.2 126.3 210.7 148.4 210.3 148.2ZM222.2 126.3 223.6 127.1 211.1 148.6 210.7 148.4ZM223.6 127.1 225.0 128.0 211.5 148.8 211.1 148.6ZM225.0 128.0 226.4 129.0 211.8 149.0 211.5 148.8ZM226.4 129.0 227.8 130.2 212.2 149.2 211.8 149.0ZM227.8 130.2 229.1 131.4 212.6 149.5 212.2 149.2ZM229.1 131.4 230.5 132.8 212.9 149.8 212.6 149.5ZM230.5 132.8 231.9 134.4 213.4 150.2 212.9 149.8ZM231.9 134.4 233.2 136.0 213.9 150.9 213.4 150.2ZM233.2 136.0 234.4 137.6 214.6 151.8 213.9 150.9ZM234.4 137.6 235.4 139.1 215.4 152.9 214.6 151.8ZM235.4 139.1 236.4 140.7 216.3 154.1 215.4 152.9ZM236.4 140.7 237.4 142.1 217.1 155.4 216.3 154.1ZM237.4 142.1 238.3 143.5 218.0 156.7 217.1 155.4ZM238.3 143.5 239.0 144.7 218.8 157.9 218.0 156.7ZM239.0 144.7 239.7 145.7 219.6 159.2 218.8 157.9ZM239.7 145.7 240.2 146.5 220.5 160.4 219.6 159.2ZM240.2 146.5 240.5 146.9 221.2 161.3 220.5 160.4ZM240.5 146.9 240.5 146.9 221.8 162.2 221.2 161.3ZM240.5 146.9 240.3 146.7 222.4 162.9 221.8 162.2ZM240.3 146.7 240.4 146.7 222.8 163.3 222.4 162.9ZM240.4 146.7 241.0 147.4 222.5 163.1 222.8 163.3ZM241.0 147.4 241.8 148.3 222.3 162.8 222.5 163.1ZM241.8 148.3 242.5 149.3 222.4 162.9 222.3 162.8ZM242.5 149.3 243.1 150.3 222.7 163.4 222.4 162.9ZM243.1 150.3 243.9 151.5 223.3 164.3 222.7 163.4ZM243.9 151.5 244.8 153.2 224.3 165.8 223.3 164.3ZM244.8 153.2 246.1 155.3 225.6 167.8 224.3 165.8ZM246.1 155.3 247.5 157.9 227.2 170.3 225.6 167.8ZM247.5 157.9 249.2 161.0 229.1 173.1 227.2 170.3ZM249.2 161.0 251.0 164.3 231.1 176.2 229.1 173.1ZM251.0 164.3 252.9 167.8 233.2 179.5 231.1 176.2ZM252.9 167.8 254.8 171.3 235.4 182.9 233.2 179.5ZM254.8 171.3 256.7 174.8 237.5 186.2 235.4 182.9ZM256.7 174.8 258.6 178.2 239.5 189.4 237.5 186.2ZM258.6 178.2 260.3 181.4 241.4 192.3 239.5 189.4ZM260.3 181.4 261.8 184.2 242.9 194.9 241.4 192.3ZM261.8 184.2 263.2 186.7 244.3 197.2 242.9 194.9ZM263.2 186.7 264.5 188.9 245.4 199.3 244.3 197.2ZM264.5 188.9 265.6 191.0 246.4 201.3 245.4 199.3ZM265.6 191.0 266.7 193.0 247.4 203.1 246.4 201.3ZM266.7 193.0 267.7 194.9 248.2 204.9 247.4 203.1ZM267.7 194.9 268.7 196.7 249.1 206.7 248.2 204.9ZM268.7 196.7 269.7 198.5 250.0 208.6 249.1 206.7ZM269.7 198.5 270.7 200.3 251.0 210.5 250.0 208.6ZM270.7 200.3 271.7 202.2 252.0 212.6 251.0 210.5ZM271.7 202.2 272.9 204.3 253.2 214.8 252.0 212.6ZM272.9 204.3 274.1 206.6 254.4 217.1 253.2 214.8ZM274.1 206.6 275.4 209.0 255.7 219.5 254.4 217.1ZM275.4 209.0 276.7 211.4 257.0 222.0 255.7 219.5ZM276.7 211.4 278.0 213.9 258.4 224.5 257.0 222.0ZM278.0 213.9 279.3 216.5 259.8 227.0 258.4 224.5ZM279.3 216.5 280.7 219.1 261.2 229.6 259.8 227.0ZM280.7 219.1 282.1 221.6 262.6 232.2 261.2 229.6ZM282.1 221.6 283.4 224.2 264.1 234.7 262.6 232.2ZM283.4 224.2 284.8 226.8 265.5 237.3 264.1 234.7ZM284.8 226.8 286.2 229.3 266.9 239.8 265.5 237.3ZM286.2 229.3 287.5 231.8 268.2 242.3 266.9 239.8ZM287.5 231.8 288.9 234.4 269.7 244.9 268.2 242.3ZM288.9 234.4 290.3 237.0 271.1 247.5 269.7 244.9ZM290.3 237.0 291.6 239.6 272.5 250.0 271.1 247.5ZM291.6 239.6 293.0 242.2 273.9 252.6 272.5 250.0ZM293.0 242.2 294.4 244.7 275.3 255.1 273.9 252.6ZM294.4 244.7 295.8 247.3 276.7 257.6 275.3 255.1ZM295.8 247.3 297.1 249.7 278.1 260.0 276.7 257.6ZM297.1 249.7 298.4 252.1 279.3 262.4 278.1 260.0ZM298.4 252.1 299.6 254.5 280.6 264.7 279.3 262.4ZM299.6 254.5 300.8 256.8 281.7 266.8 280.6 264.7ZM300.8 256.8 302.0 259.0 282.9 269.0 281.7 266.8ZM302.0 259.0 303.1 261.1 283.9 271.1 282.9 269.0ZM303.1 261.1 304.2 263.2 285.0 273.1 283.9 271.1ZM304.2 263.2 305.2 265.2 286.0 275.1 285.0 273.1ZM305.2 265.2 306.2 267.1 287.1 277.1 286.0 275.1ZM306.2 267.1 307.2 269.0 288.1 279.0 287.1 277.1ZM307.2 269.0 308.2 270.9 289.1 281.0 288.1 279.0ZM308.2 270.9 309.1 272.7 290.1 282.9 289.1 281.0ZM309.1 272.7 310.1 274.4 291.1 284.7 290.1 282.9ZM310.1 274.4 311.0 276.2 292.1 286.5 291.1 284.7ZM311.0 276.2 312.0 277.9 293.0 288.2 292.1 286.5ZM312.0 277.9 312.9 279.5 293.9 289.9 293.0 288.2ZM312.9 279.5 313.7 281.1 294.8 291.6 293.9 289.9ZM313.7 281.1 314.6 282.6 295.7 293.2 294.8 291.6ZM314.6 282.6 315.4 284.0 296.7 294.9 295.7 293.2ZM315.4 284.0 316.2 285.5 297.6 296.5 296.7 294.9ZM316.2 285.5 317.1 286.8 298.6 298.1 297.6 296.5ZM317.1 286.8 317.9 288.2 299.6 299.8 298.6 298.1ZM317.9 288.2 318.8 289.6 300.7 301.4 299.6 299.8ZM318.8 289.6 319.7 291.1 301.8 303.0 300.7 301.4ZM319.7 291.1 320.8 292.7 303.0 304.7 301.8 303.0ZM320.8 292.7 321.8 294.2 304.1 306.4 303.0 304.7ZM321.8 294.2 322.8 295.8 305.4 308.1 304.1 306.4ZM322.8 295.8 323.8 297.2 306.7 309.8 305.4 308.1ZM323.8 297.2 324.8 298.6 308.0 311.5 306.7 309.8ZM324.8 298.6 325.7 299.8 309.3 313.1 308.0 311.5ZM325.7 299.8 326.5 300.8 310.6 314.7 309.3 313.1ZM326.5 300.8 327.1 301.6 312.1 316.2 310.6 314.7ZM327.1 301.6 327.6 302.1 313.6 317.6 312.1 316.2ZM327.6 302.1 327.8 302.3 315.2 318.9 313.6 317.6ZM327.8 302.3 327.9 302.4 317.0 320.1 315.2 318.9ZM327.9 302.4 327.9 302.4 318.7 321.0 317.0 320.1ZM327.9 302.4 327.9 302.5 320.4 321.7 318.7 321.0ZM327.9 302.5 328.0 302.5 322.0 322.3 320.4 321.7ZM328.0 302.5 328.2 302.6 323.5 322.7 322.0 322.3ZM328.2 302.6 328.5 302.7 324.8 322.9 323.5 322.7ZM328.5 302.7 329.0 302.8 325.9 323.1 324.8 322.9ZM329.0 302.8 329.8 302.9 326.8 323.2 325.9 323.1ZM329.8 302.9 330.5 303.0 327.7 323.3 326.8 323.2ZM330.5 303.0 330.8 303.0 328.9 323.5 327.7 323.3ZM330.8 303.0 330.8 303.0 330.3 323.5 328.9 323.5ZM330.8 303.0 330.7 303.0 331.7 323.5 330.3 323.5ZM330.7 303.0 330.7 303.0 333.0 323.4 331.7 323.5ZM330.7 303.0 330.7 303.0 334.2 323.2 333.0 323.4ZM330.7 303.0 330.8 303.0 335.4 323.0 334.2 323.2ZM330.8 303.0 331.0 302.9 336.5 322.7 335.4 323.0ZM331.0 302.9 331.3 302.8 337.4 322.4 336.5 322.7ZM331.3 302.8 331.7 302.7 338.3 322.2 337.4 322.4ZM331.7 302.7 332.3 302.5 339.1 321.9 338.3 322.2ZM332.3 302.5 332.9 302.3 339.9 321.6 339.1 321.9ZM332.9 302.3 333.5 302.1 340.8 321.2 339.9 321.6ZM333.5 302.1 334.0 301.9 341.8 320.8 340.8 321.2ZM334.0 301.9 334.4 301.8 342.8 320.4 341.8 320.8ZM334.4 301.8 334.7 301.7 343.9 319.8 342.8 320.4ZM334.7 301.7 334.9 301.6 345.1 319.2 343.9 319.8ZM334.9 301.6 334.9 301.6 346.4 318.4 345.1 319.2ZM334.9 301.6 334.9 301.6 347.6 317.4 346.4 318.4ZM334.9 301.6 334.8 301.7 348.9 316.3 347.6 317.4ZM334.8 301.7 334.7 301.9 350.0 315.0 348.9 316.3ZM334.7 301.9 334.6 302.0 351.1 313.6 350.0 315.0ZM334.6 302.0 334.8 301.9 351.9 312.3 351.1 313.6ZM334.8 301.9 334.9 301.7 352.6 311.0 351.9 312.3ZM334.9 301.7 335.2 301.3 353.2 309.7 352.6 311.0ZM335.2 301.3 335.4 300.8 353.7 308.4 353.2 309.7ZM335.4 300.8 335.7 300.1 354.2 307.1 353.7 308.4ZM335.7 300.1 336.0 299.5 354.6 305.9 354.2 307.1ZM336.0 299.5 336.3 298.7 355.0 304.7 354.6 305.9ZM336.3 298.7 336.6 298.0 355.3 303.5 355.0 304.7ZM336.6 298.0 336.8 297.2 355.6 302.4 355.3 303.5ZM336.8 297.2 337.1 296.6 355.9 301.2 355.6 302.4ZM337.1 296.6 337.2 296.0 356.1 300.0 355.9 301.2ZM337.2 296.0 337.3 295.5 356.3 298.8 356.1 300.0ZM337.3 295.5 337.5 294.9 356.5 297.6 356.3 298.8ZM337.5 294.9 337.6 294.2 356.6 296.5 356.5 297.6ZM337.6 294.2 337.7 293.4 356.7 295.4 356.6 296.5ZM337.7 293.4 337.8 292.5 356.8 294.2 356.7 295.4ZM337.8 292.5 337.9 291.5 356.9 293.0 356.8 294.2ZM337.9 291.5 338.1 290.2 356.9 291.8 356.9 293.0ZM338.1 290.2 338.2 288.9 357.0 290.4 356.9 291.8ZM338.2 288.9 338.4 287.5 357.1 288.7 357.0 290.4ZM338.4 287.5 338.5 285.9 357.1 286.8 357.1 288.7ZM338.5 285.9 338.7 284.0 357.1 284.8 357.1 286.8ZM338.7 284.0 338.9 282.1 357.1 282.8 357.1 284.8ZM338.9 282.1 339.1 280.0 357.1 280.7 357.1 282.8ZM339.1 280.0 339.2 277.9 357.2 278.7 357.1 280.7ZM339.2 277.9 339.4 275.8 357.2 276.7 357.2 278.7ZM339.4 275.8 339.6 273.8 357.2 274.9 357.2 276.7ZM339.6 273.8 339.7 271.9 357.3 273.2 357.2 274.9ZM339.7 271.9 339.9 270.1 357.4 271.8 357.3 273.2ZM339.9 270.1 340.0 268.5 357.6 270.5 357.4 271.8ZM340.0 268.5 340.2 267.0 357.8 269.3 357.6 270.5ZM340.2 267.0 340.3 265.6 358.0 268.2 357.8 269.3ZM340.3 265.6 340.4 264.2 358.3 267.1 358.0 268.2ZM340.4 264.2 340.5 262.9 358.5 266.2 358.3 267.1ZM340.5 262.9 340.6 261.6 358.8 265.4 358.5 266.2ZM340.6 261.6 340.8 260.3 359.1 264.6 358.8 265.4ZM340.8 260.3 341.0 259.0 359.4 263.9 359.1 264.6ZM341.0 259.0 341.2 257.8 359.7 263.2 359.4 263.9ZM341.2 257.8 341.5 256.6 360.0 262.5 359.7 263.2ZM341.5 256.6 341.7 255.5 360.3 261.8 360.0 262.5ZM341.7 255.5 342.0 254.4 360.6 261.2 360.3 261.8ZM342.0 254.4 342.4 253.2 360.9 260.7 360.6 261.2ZM342.4 253.2 342.8 252.1 361.1 260.3 360.9 260.7ZM342.8 252.1 343.3 250.8 361.3 260.1 361.1 260.3ZM343.3 250.8 343.8 249.6 361.5 259.9 361.3 260.1ZM343.8 249.6 344.5 248.3 361.7 259.7 361.5 259.9ZM344.5 248.3 345.3 247.1 361.9 259.5 361.7 259.7ZM345.3 247.1 346.2 245.9 362.1 259.3 361.9 259.5ZM346.2 245.9 347.1 244.8 362.4 259.0 362.1 259.3ZM347.1 244.8 348.1 243.8 362.8 258.7 362.4 259.0ZM348.1 243.8 349.2 242.8 363.2 258.3 362.8 258.7ZM349.2 242.8 350.3 241.8 363.7 257.9 363.2 258.3ZM350.3 241.8 351.4 240.9 364.2 257.4 363.7 257.9ZM351.4 240.9 352.6 240.1 364.7 257.0 364.2 257.4ZM352.6 240.1 353.8 239.3 365.3 256.5 364.7 257.0ZM353.8 239.3 355.1 238.5 366.0 256.1 365.3 256.5ZM355.1 238.5 356.4 237.8 366.7 255.6 366.0 256.1ZM356.4 237.8 357.7 237.1 367.3 255.2 366.7 255.6ZM357.7 237.1 359.0 236.4 368.0 254.9 367.3 255.2ZM359.0 236.4 360.4 235.8 368.7 254.5 368.0 254.9ZM360.4 235.8 361.7 235.2 369.5 254.2 368.7 254.5ZM361.7 235.2 363.1 234.7 370.3 253.9 369.5 254.2ZM363.1 234.7 364.5 234.2 371.1 253.6 370.3 253.9ZM364.5 234.2 365.9 233.7 372.0 253.3 371.1 253.6ZM365.9 233.7 367.3 233.3 372.9 253.1 372.0 253.3ZM367.3 233.3 368.7 232.9 373.9 252.8 372.9 253.1ZM368.7 232.9 370.1 232.5 374.9 252.5 373.9 252.8ZM370.1 232.5 371.6 232.2 376.0 252.3 374.9 252.5ZM371.6 232.2 373.1 231.9 377.2 252.0 376.0 252.3ZM373.1 231.9 374.6 231.6 378.4 251.8 377.2 252.0ZM374.6 231.6 376.3 231.4 379.7 251.5 378.4 251.8ZM376.3 231.4 378.0 231.1 381.1 251.2 379.7 251.5ZM378.0 231.1 379.7 230.9 382.5 251.0 381.1 251.2ZM379.7 230.9 381.5 230.7 384.0 250.8 382.5 251.0ZM381.5 230.7 383.2 230.6 385.4 250.6 384.0 250.8ZM383.2 230.6 385.0 230.5 386.8 250.4 385.4 250.6ZM385.0 230.5 386.8 230.4 388.1 250.2 386.8 250.4ZM386.8 230.4 388.5 230.4 389.3 250.0 388.1 250.2ZM388.5 230.4 390.2 230.5 390.4 249.9 389.3 250.0ZM390.2 230.5 391.9 230.6 391.3 249.8 390.4 249.9ZM391.9 230.6 393.6 230.9 392.1 249.7 391.3 249.8ZM393.6 230.9 395.1 231.2 392.9 249.6 392.1 249.7ZM395.1 231.2 396.5 231.6 393.8 249.6 392.9 249.6ZM396.5 231.6 397.8 232.1 394.7 249.6 393.8 249.6ZM397.8 232.1 399.0 232.5 395.7 249.6 394.7 249.6ZM399.0 232.5 400.0 232.9 396.8 249.6 395.7 249.6ZM400.0 232.9 400.9 233.3 398.0 249.6 396.8 249.6ZM400.9 233.3 401.8 233.7 399.2 249.7 398.0 249.6ZM401.8 233.7 402.8 234.0 400.4 249.7 399.2 249.7Z" fill="#2b71c5" stroke="#2b71c5" stroke-width="0.6" stroke-linejoin="round"/>
<path d="M251.3 338.0 251.2 336.7 260.0 336.8 259.9 338.0ZM251.2 336.7 251.2 335.5 260.0 335.6 260.0 336.8ZM251.2 335.5 251.2 334.3 260.0 334.5 260.0 335.6ZM251.2 334.3 251.2 333.1 260.0 333.3 260.0 334.5ZM251.2 333.1 251.2 332.0 260.0 332.1 260.0 333.3ZM251.2 332.0 251.2 330.9 260.1 330.9 260.0 332.1ZM251.2 330.9 251.2 329.7 260.1 329.7 260.1 330.9ZM251.2 329.7 251.1 328.6 260.1 328.5 260.1 329.7ZM251.1 328.6 251.1 327.5 260.0 327.2 260.1 328.5ZM251.1 327.5 251.0 326.3 260.0 325.9 260.0 327.2ZM251.0 326.3 250.9 325.0 259.9 324.6 260.0 325.9ZM250.9 325.0 250.8 323.7 259.9 323.3 259.9 324.6ZM250.8 323.7 250.8 322.3 259.8 321.9 259.9 323.3ZM250.8 322.3 250.7 320.9 259.8 320.4 259.8 321.9ZM250.7 320.9 250.5 319.6 259.7 319.0 259.8 320.4ZM250.5 319.6 250.4 318.4 259.6 317.5 259.7 319.0ZM250.4 318.4 250.3 317.2 259.5 316.1 259.6 317.5ZM250.3 317.2 250.1 316.2 259.3 314.8 259.5 316.1ZM250.1 316.2 250.0 315.3 259.1 313.5 259.3 314.8ZM250.0 315.3 249.8 314.7 258.8 312.3 259.1 313.5ZM249.8 314.7 249.7 314.3 258.5 311.2 258.8 312.3ZM249.7 314.3 249.6 314.1 258.0 310.2 258.5 311.2ZM249.6 314.1 249.4 313.8 257.6 309.3 258.0 310.2ZM249.4 313.8 249.2 313.4 257.1 308.4 257.6 309.3ZM249.2 313.4 248.9 313.0 256.6 307.7 257.1 308.4ZM248.9 313.0 248.5 312.4 256.1 307.0 256.6 307.7ZM248.5 312.4 248.0 311.6 255.6 306.3 256.1 307.0ZM248.0 311.6 247.3 310.7 255.2 305.7 255.6 306.3ZM247.3 310.7 246.7 309.6 254.8 305.0 255.2 305.7ZM246.7 309.6 246.0 308.4 254.4 304.3 254.8 305.0ZM246.0 308.4 245.5 307.2 254.1 303.6 254.4 304.3ZM245.5 307.2 245.1 306.1 253.8 302.9 254.1 303.6ZM245.1 306.1 244.8 305.2 253.6 302.2 253.8 302.9ZM244.8 305.2 244.5 304.3 253.3 301.5 253.6 302.2ZM244.5 304.3 244.3 303.6 253.1 300.7 253.3 301.5ZM244.3 303.6 244.0 303.0 252.8 299.9 253.1 300.7ZM244.0 303.0 243.8 302.3 252.4 298.9 252.8 299.9ZM243.8 302.3 243.5 301.7 252.0 297.9 252.4 298.9ZM243.5 301.7 243.2 300.9 251.5 296.8 252.0 297.9ZM243.2 300.9 242.7 300.0 250.9 295.6 251.5 296.8ZM242.7 300.0 242.1 298.9 250.1 294.2 250.9 295.6ZM242.1 298.9 241.3 297.7 249.2 292.8 250.1 294.2ZM241.3 297.7 240.4 296.3 248.3 291.2 249.2 292.8ZM240.4 296.3 239.4 294.8 247.3 289.7 248.3 291.2ZM239.4 294.8 238.3 293.1 246.2 288.0 247.3 289.7ZM238.3 293.1 237.1 291.4 245.1 286.3 246.2 288.0ZM237.1 291.4 235.9 289.6 244.0 284.6 245.1 286.3ZM235.9 289.6 234.8 287.7 242.9 282.8 244.0 284.6ZM234.8 287.7 233.6 285.8 241.9 281.0 242.9 282.8ZM233.6 285.8 232.5 283.8 240.9 279.2 241.9 281.0ZM232.5 283.8 231.4 281.9 239.9 277.4 240.9 279.2ZM231.4 281.9 230.4 280.0 239.0 275.6 239.9 277.4ZM230.4 280.0 229.4 278.0 238.1 273.7 239.0 275.6ZM229.4 278.0 228.4 276.0 237.1 271.8 238.1 273.7ZM228.4 276.0 227.5 274.0 236.2 269.9 237.1 271.8ZM227.5 274.0 226.5 271.9 235.2 267.9 236.2 269.9ZM226.5 271.9 225.5 269.8 234.3 265.8 235.2 267.9ZM225.5 269.8 224.6 267.6 233.4 263.7 234.3 265.8ZM224.6 267.6 223.6 265.4 232.4 261.6 233.4 263.7ZM223.6 265.4 222.6 263.1 231.5 259.4 232.4 261.6ZM222.6 263.1 221.7 260.7 230.5 257.1 231.5 259.4ZM221.7 260.7 220.7 258.2 229.6 254.7 230.5 257.1ZM220.7 258.2 219.8 255.7 228.6 252.3 229.6 254.7ZM219.8 255.7 218.9 253.1 227.7 249.8 228.6 252.3ZM218.9 253.1 218.0 250.5 226.7 247.3 227.7 249.8ZM218.0 250.5 217.1 247.9 225.7 244.7 226.7 247.3ZM217.1 247.9 216.2 245.3 224.8 242.1 225.7 244.7ZM216.2 245.3 215.3 242.8 223.8 239.5 224.8 242.1ZM215.3 242.8 214.4 240.3 222.8 237.0 223.8 239.5ZM214.4 240.3 213.4 237.8 221.8 234.4 222.8 237.0ZM213.4 237.8 212.5 235.3 220.8 231.9 221.8 234.4ZM212.5 235.3 211.5 232.8 219.7 229.3 220.8 231.9ZM211.5 232.8 210.4 230.2 218.6 226.8 219.7 229.3ZM210.4 230.2 209.3 227.7 217.5 224.2 218.6 226.8ZM209.3 227.7 208.3 225.1 216.4 221.6 217.5 224.2ZM208.3 225.1 207.2 222.5 215.3 219.1 216.4 221.6ZM207.2 222.5 206.1 220.0 214.3 216.6 215.3 219.1ZM206.1 220.0 205.1 217.5 213.2 214.1 214.3 216.6ZM205.1 217.5 204.1 215.0 212.3 211.8 213.2 214.1ZM204.1 215.0 203.1 212.7 211.4 209.5 212.3 211.8ZM203.1 212.7 202.2 210.4 210.6 207.3 211.4 209.5ZM202.2 210.4 201.4 208.2 209.8 205.2 210.6 207.3ZM201.4 208.2 200.6 206.1 209.1 203.1 209.8 205.2ZM200.6 206.1 199.8 204.1 208.4 201.1 209.1 203.1ZM199.8 204.1 199.0 202.2 207.7 199.2 208.4 201.1ZM199.0 202.2 198.3 200.2 207.1 197.3 207.7 199.2ZM198.3 200.2 197.6 198.3 206.5 195.3 207.1 197.3ZM197.6 198.3 196.9 196.5 205.8 193.4 206.5 195.3ZM196.9 196.5 196.2 194.6 205.2 191.5 205.8 193.4ZM196.2 194.6 195.4 192.6 204.5 189.5 205.2 191.5ZM195.4 192.6 194.7 190.7 203.8 187.4 204.5 189.5ZM194.7 190.7 194.0 188.6 203.1 185.3 203.8 187.4ZM194.0 188.6 193.2 186.5 202.3 183.2 203.1 185.3ZM193.2 186.5 192.4 184.3 201.5 181.1 202.3 183.2ZM192.4 184.3 191.6 182.2 200.8 179.0 201.5 181.1ZM191.6 182.2 190.9 180.1 200.0 176.9 200.8 179.0ZM190.9 180.1 190.2 178.1 199.3 174.9 200.0 176.9ZM190.2 178.1 189.5 176.1 198.7 173.0 199.3 174.9ZM189.5 176.1 188.8 174.2 198.1 171.2 198.7 173.0ZM188.8 174.2 188.2 172.4 197.6 169.5 198.1 171.2ZM188.2 172.4 187.7 170.8 197.1 168.0 197.6 169.5ZM187.7 170.8 187.3 169.4 196.7 166.6 197.1 168.0ZM187.3 169.4 186.9 168.0 196.3 165.3 196.7 166.6ZM186.9 168.0 186.5 166.7 196.0 164.2 196.3 165.3ZM186.5 166.7 186.1 165.4 195.7 163.0 196.0 164.2ZM186.1 165.4 185.8 164.1 195.5 162.0 195.7 163.0ZM185.8 164.1 185.5 162.9 195.3 161.0 195.5 162.0ZM185.5 162.9 185.2 161.6 195.1 159.9 195.3 161.0ZM185.2 161.6 185.0 160.4 194.9 158.9 195.1 159.9ZM185.0 160.4 184.8 159.1 194.8 157.8 194.9 158.9ZM184.8 159.1 184.6 157.8 194.6 156.7 194.8 157.8ZM184.6 157.8 184.4 156.4 194.5 155.6 194.6 156.7ZM184.4 156.4 184.3 155.1 194.5 154.4 194.5 155.6ZM184.3 155.1 184.2 153.7 194.4 153.3 194.5 154.4ZM184.2 153.7 184.1 152.4 194.4 152.3 194.4 153.3ZM184.1 152.4 184.1 151.1 194.4 151.2 194.4 152.3ZM184.1 151.1 184.1 149.7 194.4 150.2 194.4 151.2ZM184.1 149.7 184.1 148.4 194.5 149.2 194.4 150.2ZM184.1 148.4 184.2 147.0 194.6 148.2 194.5 149.2ZM184.2 147.0 184.3 145.8 194.7 147.2 194.6 148.2ZM184.3 145.8 184.5 144.6 194.9 146.3 194.7 147.2ZM184.5 144.6 184.7 143.4 195.1 145.4 194.9 146.3ZM184.7 143.4 184.9 142.1 195.2 144.5 195.1 145.4ZM184.9 142.1 185.2 140.9 195.5 143.6 195.2 144.5ZM185.2 140.9 185.6 139.6 195.7 142.7 195.5 143.6ZM185.6 139.6 186.0 138.2 196.0 141.9 195.7 142.7ZM186.0 138.2 186.6 136.8 196.3 141.2 196.0 141.9ZM186.6 136.8 187.3 135.3 196.6 140.6 196.3 141.2ZM187.3 135.3 188.3 133.9 196.9 140.1 196.6 140.6ZM188.3 133.9 189.4 132.4 197.3 139.6 196.9 140.1ZM189.4 132.4 190.8 131.1 197.7 139.2 197.3 139.6ZM190.8 131.1 192.2 130.0 198.2 138.8 197.7 139.2ZM192.2 130.0 193.7 129.2 198.7 138.5 198.2 138.8ZM193.7 129.2 195.1 128.5 199.4 138.2 198.7 138.5ZM195.1 128.5 196.5 128.0 200.0 137.9 199.4 138.2ZM196.5 128.0 197.8 127.6 200.7 137.7 200.0 137.9ZM197.8 127.6 199.1 127.2 201.5 137.5 200.7 137.7ZM199.1 127.2 200.4 127.0 202.2 137.4 201.5 137.5ZM200.4 127.0 201.6 126.8 203.0 137.2 202.2 137.4ZM201.6 126.8 202.8 126.7 203.8 137.1 203.0 137.2ZM202.8 126.7 204.1 126.6 204.5 137.1 203.8 137.1ZM204.1 126.6 205.5 126.6 205.3 137.1 204.5 137.1ZM205.5 126.6 206.8 126.6 206.1 137.1 205.3 137.1ZM206.8 126.6 208.1 126.8 206.9 137.2 206.1 137.1ZM208.1 126.8 209.4 126.9 207.8 137.3 206.9 137.2ZM209.4 126.9 210.7 127.2 208.6 137.5 207.8 137.3ZM210.7 127.2 212.0 127.4 209.5 137.7 208.6 137.5ZM212.0 127.4 213.2 127.8 210.3 137.9 209.5 137.7ZM213.2 127.8 214.5 128.2 211.2 138.1 210.3 137.9ZM214.5 128.2 215.6 128.6 212.0 138.4 211.2 138.1ZM215.6 128.6 216.7 129.0 212.8 138.8 212.0 138.4ZM216.7 129.0 217.8 129.5 213.6 139.1 212.8 138.8ZM217.8 129.5 218.9 130.0 214.4 139.4 213.6 139.1ZM218.9 130.0 220.0 130.6 215.2 139.8 214.4 139.4ZM220.0 130.6 221.2 131.3 216.0 140.2 215.2 139.8ZM221.2 131.3 222.4 132.0 216.7 140.7 216.0 140.2ZM222.4 132.0 223.6 132.9 217.5 141.2 216.7 140.7ZM223.6 132.9 224.7 133.9 218.2 141.8 217.5 141.2ZM224.7 133.9 225.9 134.9 219.0 142.4 218.2 141.8ZM225.9 134.9 227.1 136.1 219.8 143.2 219.0 142.4ZM227.1 136.1 228.3 137.4 220.6 144.1 219.8 143.2ZM228.3 137.4 229.5 138.9 221.4 145.1 220.6 144.1ZM229.5 138.9 230.5 140.3 222.3 146.3 221.4 145.1ZM230.5 140.3 231.5 141.8 223.2 147.6 222.3 146.3ZM231.5 141.8 232.5 143.3 224.1 148.9 223.2 147.6ZM232.5 143.3 233.4 144.7 225.0 150.2 224.1 148.9ZM233.4 144.7 234.3 146.1 225.9 151.5 225.0 150.2ZM234.3 146.1 235.1 147.3 226.7 152.8 225.9 151.5ZM235.1 147.3 235.8 148.3 227.4 153.9 226.7 152.8ZM235.8 148.3 236.4 149.2 228.1 155.0 227.4 153.9ZM236.4 149.2 236.7 149.7 228.7 155.7 228.1 155.0ZM236.7 149.7 236.9 149.9 229.1 156.3 228.7 155.7ZM236.9 149.9 236.9 149.8 229.4 156.6 229.1 156.3ZM236.9 149.8 236.9 149.9 229.6 156.8 229.4 156.6ZM236.9 149.9 237.4 150.4 229.7 157.0 229.6 156.8ZM237.4 150.4 238.0 151.1 229.9 157.2 229.7 157.0ZM238.0 151.1 238.6 151.9 230.2 157.6 229.9 157.2ZM238.6 151.9 239.1 152.8 230.6 158.3 230.2 157.6ZM239.1 152.8 239.9 154.0 231.3 159.3 230.6 158.3ZM239.9 154.0 240.8 155.6 232.3 160.9 231.3 159.3ZM240.8 155.6 242.1 157.7 233.5 162.9 232.3 160.9ZM242.1 157.7 243.6 160.3 235.1 165.5 233.5 162.9ZM243.6 160.3 245.3 163.3 236.9 168.4 235.1 165.5ZM245.3 163.3 247.1 166.6 238.8 171.6 236.9 168.4ZM247.1 166.6 249.1 170.0 240.9 174.9 238.8 171.6ZM249.1 170.0 251.0 173.6 243.0 178.4 240.9 174.9ZM251.0 173.6 253.0 177.0 245.0 181.8 243.0 178.4ZM253.0 177.0 254.9 180.4 246.9 185.0 245.0 181.8ZM254.9 180.4 256.6 183.5 248.7 188.1 246.9 185.0ZM256.6 183.5 258.2 186.3 250.3 190.7 248.7 188.1ZM258.2 186.3 259.5 188.7 251.6 193.1 250.3 190.7ZM259.5 188.7 260.8 191.0 252.8 195.3 251.6 193.1ZM260.8 191.0 261.9 193.0 253.9 197.3 252.8 195.3ZM261.9 193.0 262.9 195.0 254.9 199.2 253.9 197.3ZM262.9 195.0 263.9 196.8 255.8 201.0 254.9 199.2ZM263.9 196.8 264.9 198.6 256.7 202.8 255.8 201.0ZM264.9 198.6 265.9 200.4 257.7 204.6 256.7 202.8ZM265.9 200.4 266.9 202.3 258.6 206.5 257.7 204.6ZM266.9 202.3 267.9 204.2 259.7 208.6 258.6 206.5ZM267.9 204.2 269.0 206.4 260.8 210.7 259.7 208.6ZM269.0 206.4 270.3 208.6 262.1 213.0 260.8 210.7ZM270.3 208.6 271.5 211.0 263.3 215.4 262.1 213.0ZM271.5 211.0 272.8 213.5 264.7 217.9 263.3 215.4ZM272.8 213.5 274.2 216.0 266.0 220.4 264.7 217.9ZM274.2 216.0 275.5 218.5 267.4 222.9 266.0 220.4ZM275.5 218.5 276.9 221.1 268.8 225.5 267.4 222.9ZM276.9 221.1 278.3 223.7 270.2 228.1 268.8 225.5ZM278.3 223.7 279.7 226.3 271.6 230.6 270.2 228.1ZM279.7 226.3 281.0 228.8 273.0 233.2 271.6 230.6ZM281.0 228.8 282.4 231.4 274.4 235.7 273.0 233.2ZM282.4 231.4 283.8 233.9 275.7 238.2 274.4 235.7ZM283.8 233.9 285.1 236.4 277.1 240.8 275.7 238.2ZM285.1 236.4 286.5 239.0 278.5 243.4 277.1 240.8ZM286.5 239.0 287.9 241.6 280.0 246.0 278.5 243.4ZM287.9 241.6 289.3 244.2 281.4 248.5 280.0 246.0ZM289.3 244.2 290.7 246.7 282.8 251.1 281.4 248.5ZM290.7 246.7 292.1 249.3 284.1 253.6 282.8 251.1ZM292.1 249.3 293.4 251.7 285.5 256.0 284.1 253.6ZM293.4 251.7 294.7 254.1 286.7 258.4 285.5 256.0ZM294.7 254.1 295.9 256.5 288.0 260.7 286.7 258.4ZM295.9 256.5 297.1 258.7 289.2 262.9 288.0 260.7ZM297.1 258.7 298.3 260.9 290.3 265.1 289.2 262.9ZM298.3 260.9 299.4 263.0 291.4 267.2 290.3 265.1ZM299.4 263.0 300.4 265.1 292.5 269.2 291.4 267.2ZM300.4 265.1 301.5 267.1 293.5 271.3 292.5 269.2ZM301.5 267.1 302.5 269.1 294.5 273.2 293.5 271.3ZM302.5 269.1 303.5 271.0 295.5 275.1 294.5 273.2ZM303.5 271.0 304.5 272.8 296.5 277.0 295.5 275.1ZM304.5 272.8 305.4 274.6 297.5 278.9 296.5 277.0ZM305.4 274.6 306.4 276.4 298.5 280.7 297.5 278.9ZM306.4 276.4 307.4 278.2 299.4 282.5 298.5 280.7ZM307.4 278.2 308.3 279.9 300.4 284.2 299.4 282.5ZM308.3 279.9 309.2 281.5 301.3 285.9 300.4 284.2ZM309.2 281.5 310.1 283.1 302.2 287.5 301.3 285.9ZM310.1 283.1 310.9 284.7 303.1 289.1 302.2 287.5ZM310.9 284.7 311.8 286.1 303.9 290.7 303.1 289.1ZM311.8 286.1 312.6 287.6 304.9 292.2 303.9 290.7ZM312.6 287.6 313.5 289.0 305.8 293.7 304.9 292.2ZM313.5 289.0 314.3 290.4 306.7 295.3 305.8 293.7ZM314.3 290.4 315.3 291.9 307.7 296.8 306.7 295.3ZM315.3 291.9 316.3 293.4 308.8 298.4 307.7 296.8ZM316.3 293.4 317.3 295.0 309.9 300.0 308.8 298.4ZM317.3 295.0 318.4 296.6 311.0 301.7 309.9 300.0ZM318.4 296.6 319.4 298.2 312.2 303.3 311.0 301.7ZM319.4 298.2 320.5 299.7 313.3 304.9 312.2 303.3ZM320.5 299.7 321.5 301.1 314.5 306.5 313.3 304.9ZM321.5 301.1 322.5 302.4 315.7 307.9 314.5 306.5ZM322.5 302.4 323.4 303.5 316.8 309.3 315.7 307.9ZM323.4 303.5 324.2 304.4 317.9 310.5 316.8 309.3ZM324.2 304.4 324.8 305.1 319.0 311.6 317.9 310.5ZM324.8 305.1 325.3 305.5 320.1 312.5 319.0 311.6ZM325.3 305.5 325.7 305.8 321.2 313.2 320.1 312.5ZM325.7 305.8 326.1 306.0 322.3 313.8 321.2 313.2ZM326.1 306.0 326.5 306.2 323.3 314.2 322.3 313.8ZM326.5 306.2 326.8 306.4 324.3 314.6 323.3 314.2ZM326.8 306.4 327.3 306.5 325.3 314.8 324.3 314.6ZM327.3 306.5 327.8 306.6 326.3 315.0 325.3 314.8ZM327.8 306.6 328.4 306.7 327.1 315.2 326.3 315.0ZM328.4 306.7 329.2 306.8 328.0 315.3 327.1 315.2ZM329.2 306.8 329.9 306.9 328.8 315.4 328.0 315.3ZM329.9 306.9 330.4 307.0 329.7 315.5 328.8 315.4ZM330.4 307.0 330.7 307.0 330.5 315.6 329.7 315.5ZM330.7 307.0 330.9 307.0 331.3 315.5 330.5 315.6ZM330.9 307.0 331.1 307.0 332.1 315.5 331.3 315.5ZM331.1 307.0 331.4 306.9 332.9 315.4 332.1 315.5ZM331.4 306.9 331.7 306.9 333.6 315.2 332.9 315.4ZM331.7 306.9 332.1 306.8 334.3 315.0 333.6 315.2ZM332.1 306.8 332.5 306.7 335.1 314.8 334.3 315.0ZM332.5 306.7 333.0 306.5 335.8 314.6 335.1 314.8ZM333.0 306.5 333.6 306.3 336.5 314.3 335.8 314.6ZM333.6 306.3 334.3 306.1 337.2 314.1 336.5 314.3ZM334.3 306.1 334.9 305.8 338.0 313.8 337.2 314.1ZM334.9 305.8 335.5 305.6 338.7 313.5 338.0 313.8ZM335.5 305.6 336.0 305.4 339.5 313.1 338.7 313.5ZM336.0 305.4 336.5 305.2 340.3 312.8 339.5 313.1ZM336.5 305.2 336.8 305.0 341.1 312.3 340.3 312.8ZM336.8 305.0 337.2 304.8 341.9 311.8 341.1 312.3ZM337.2 304.8 337.4 304.7 342.7 311.3 341.9 311.8ZM337.4 304.7 337.5 304.6 343.4 310.6 342.7 311.3ZM337.5 304.6 337.7 304.5 344.1 309.9 343.4 310.6ZM337.7 304.5 337.8 304.3 344.7 309.1 344.1 309.9ZM337.8 304.3 338.1 303.9 345.2 308.3 344.7 309.1ZM338.1 303.9 338.4 303.5 345.7 307.4 345.2 308.3ZM338.4 303.5 338.7 302.9 346.2 306.4 345.7 307.4ZM338.7 302.9 339.0 302.2 346.6 305.4 346.2 306.4ZM339.0 302.2 339.3 301.5 347.0 304.4 346.6 305.4ZM339.3 301.5 339.6 300.7 347.4 303.4 347.0 304.4ZM339.6 300.7 339.9 299.9 347.7 302.4 347.4 303.4ZM339.9 299.9 340.2 299.0 348.0 301.4 347.7 302.4ZM340.2 299.0 340.5 298.2 348.3 300.4 348.0 301.4ZM340.5 298.2 340.7 297.5 348.6 299.4 348.3 300.4ZM340.7 297.5 340.9 296.8 348.8 298.4 348.6 299.4ZM340.9 296.8 341.0 296.1 348.9 297.5 348.8 298.4ZM341.0 296.1 341.2 295.4 349.1 296.6 348.9 297.5ZM341.2 295.4 341.3 294.7 349.2 295.6 349.1 296.6ZM341.3 294.7 341.4 293.8 349.3 294.6 349.2 295.6ZM341.4 293.8 341.5 292.9 349.4 293.6 349.3 294.6ZM341.5 292.9 341.6 291.8 349.5 292.4 349.4 293.6ZM341.6 291.8 341.7 290.5 349.6 291.2 349.5 292.4ZM341.7 290.5 341.9 289.2 349.7 289.8 349.6 291.2ZM341.9 289.2 342.0 287.7 349.8 288.2 349.7 289.8ZM342.0 287.7 342.2 286.1 349.9 286.4 349.8 288.2ZM342.2 286.1 342.3 284.2 350.0 284.5 349.9 286.4ZM342.3 284.2 342.4 282.2 350.0 282.5 350.0 284.5ZM342.4 282.2 342.6 280.2 350.1 280.5 350.0 282.5ZM342.6 280.2 342.7 278.1 350.2 278.4 350.1 280.5ZM342.7 278.1 342.9 276.0 350.3 276.4 350.2 278.4ZM342.9 276.0 343.0 274.0 350.4 274.5 350.3 276.4ZM343.0 274.0 343.1 272.1 350.5 272.7 350.4 274.5ZM343.1 272.1 343.3 270.4 350.6 271.1 350.5 272.7ZM343.3 270.4 343.5 268.9 350.8 269.7 350.6 271.1ZM343.5 268.9 343.6 267.4 350.9 268.4 350.8 269.7ZM343.6 267.4 343.7 266.1 351.1 267.1 350.9 268.4ZM343.7 266.1 343.9 264.8 351.3 266.0 351.1 267.1ZM343.9 264.8 344.0 263.5 351.5 264.9 351.3 266.0ZM344.0 263.5 344.2 262.3 351.7 263.9 351.5 264.9ZM344.2 262.3 344.3 261.1 352.0 262.9 351.7 263.9ZM344.3 261.1 344.6 260.0 352.2 262.0 352.0 262.9ZM344.6 260.0 344.8 258.8 352.5 261.1 352.2 262.0ZM344.8 258.8 345.1 257.7 352.8 260.2 352.5 261.1ZM345.1 257.7 345.4 256.7 353.1 259.3 352.8 260.2ZM345.4 256.7 345.6 255.7 353.4 258.5 353.1 259.3ZM345.6 255.7 346.0 254.7 353.7 257.8 353.4 258.5ZM346.0 254.7 346.3 253.7 354.0 257.1 353.7 257.8ZM346.3 253.7 346.8 252.6 354.3 256.5 354.0 257.1ZM346.8 252.6 347.3 251.6 354.7 255.9 354.3 256.5ZM347.3 251.6 347.9 250.5 355.0 255.3 354.7 255.9ZM347.9 250.5 348.5 249.5 355.5 254.7 355.0 255.3ZM348.5 249.5 349.3 248.5 355.9 254.1 355.5 254.7ZM349.3 248.5 350.1 247.6 356.5 253.5 355.9 254.1ZM350.1 247.6 351.0 246.7 357.1 252.9 356.5 253.5ZM351.0 246.7 351.9 245.8 357.7 252.2 357.1 252.9ZM351.9 245.8 352.9 244.9 358.4 251.6 357.7 252.2ZM352.9 244.9 353.9 244.1 359.2 251.0 358.4 251.6ZM353.9 244.1 355.0 243.4 360.0 250.4 359.2 251.0ZM355.0 243.4 356.1 242.6 360.9 249.8 360.0 250.4ZM356.1 242.6 357.2 241.9 361.7 249.2 360.9 249.8ZM357.2 241.9 358.4 241.2 362.7 248.7 361.7 249.2ZM358.4 241.2 359.6 240.6 363.6 248.2 362.7 248.7ZM359.6 240.6 360.8 240.0 364.5 247.7 363.6 248.2ZM360.8 240.0 362.0 239.4 365.5 247.2 364.5 247.7ZM362.0 239.4 363.2 238.9 366.5 246.8 365.5 247.2ZM363.2 238.9 364.5 238.4 367.5 246.4 366.5 246.8ZM364.5 238.4 365.8 237.9 368.5 246.0 367.5 246.4ZM365.8 237.9 367.1 237.5 369.6 245.7 368.5 246.0ZM367.1 237.5 368.4 237.1 370.7 245.4 369.6 245.7ZM368.4 237.1 369.7 236.8 371.9 245.1 370.7 245.4ZM369.7 236.8 371.1 236.4 373.1 244.8 371.9 245.1ZM371.1 236.4 372.5 236.1 374.3 244.5 373.1 244.8ZM372.5 236.1 373.9 235.8 375.6 244.2 374.3 244.5ZM373.9 235.8 375.4 235.5 376.9 243.9 375.6 244.2ZM375.4 235.5 376.9 235.3 378.4 243.7 376.9 243.9ZM376.9 235.3 378.6 235.0 379.9 243.4 378.4 243.7ZM378.6 235.0 380.2 234.8 381.4 243.2 379.9 243.4ZM380.2 234.8 381.9 234.6 383.0 243.0 381.4 243.2ZM381.9 234.6 383.7 234.5 384.6 242.8 383.0 243.0ZM383.7 234.5 385.3 234.3 386.1 242.6 384.6 242.8ZM385.3 234.3 387.0 234.2 387.6 242.5 386.1 242.6ZM387.0 234.2 388.6 234.2 389.0 242.4 387.6 242.5ZM388.6 234.2 390.2 234.3 390.3 242.3 389.0 242.4ZM390.2 234.3 391.8 234.4 391.5 242.3 390.3 242.3ZM391.8 234.4 393.3 234.6 392.7 242.4 391.5 242.3ZM393.3 234.6 394.7 234.8 393.8 242.5 392.7 242.4ZM394.7 234.8 396.0 235.1 394.9 242.6 393.8 242.5ZM396.0 235.1 397.2 235.5 395.9 242.8 394.9 242.6ZM397.2 235.5 398.3 235.8 397.0 242.9 395.9 242.8ZM398.3 235.8 399.4 236.1 398.0 243.1 397.0 242.9ZM399.4 236.1 400.4 236.5 399.1 243.3 398.0 243.1ZM400.4 236.5 401.3 236.8 400.2 243.4 399.1 243.3ZM401.3 236.8 402.3 237.1 401.3 243.6 400.2 243.4Z" fill="#3882d3" stroke="#3882d3" stroke-width="0.6" stroke-linejoin="round"/>
<path d="M258.5 338.0 L258.5 336.8 L258.5 335.6 L258.5 334.4 L258.6 333.3 L258.6 332.1 L258.6 330.9 L258.6 329.7 L258.6 328.5 L258.5 327.3 L258.5 326.0 L258.4 324.7 L258.4 323.3 L258.3 321.9 L258.3 320.5 L258.2 319.1 L258.1 317.7 L257.9 316.3 L257.8 315.0 L257.6 313.8 L257.3 312.7 L257.0 311.7 L256.6 310.8 L256.2 310.0 L255.8 309.3 L255.3 308.6 L254.8 307.9 L254.3 307.2 L253.9 306.5 L253.4 305.8 L253.0 305.0 L252.6 304.2 L252.4 303.4 L252.1 302.7 L251.9 302.0 L251.6 301.2 L251.3 300.4 L251.0 299.5 L250.6 298.5 L250.1 297.5 L249.5 296.3 L248.8 295.0 L247.9 293.6 L247.0 292.1 L245.9 290.5 L244.9 288.9 L243.8 287.2 L242.7 285.4 L241.6 283.6 L240.5 281.8 L239.5 280.0 L238.5 278.2 L237.6 276.3 L236.6 274.4 L235.7 272.5 L234.7 270.5 L233.8 268.5 L232.8 266.5 L231.9 264.4 L231.0 262.2 L230.0 260.0 L229.0 257.7 L228.1 255.3 L227.2 252.9 L226.2 250.4 L225.3 247.8 L224.3 245.2 L223.3 242.7 L222.4 240.1 L221.4 237.5 L220.4 235.0 L219.4 232.5 L218.3 229.9 L217.2 227.3 L216.1 224.8 L215.0 222.2 L214.0 219.6 L212.9 217.1 L211.9 214.7 L210.9 212.3 L210.0 210.0 L209.2 207.8 L208.4 205.7 L207.7 203.6 L207.0 201.6 L206.3 199.7 L205.6 197.8 L205.0 195.8 L204.3 193.9 L203.7 192.0 L203.0 190.0 L202.3 188.0 L201.5 185.9 L200.8 183.7 L200.0 181.6 L199.2 179.5 L198.5 177.4 L197.8 175.4 L197.1 173.5 L196.5 171.7 L196.0 170.0 L195.5 168.5 L195.1 167.1 L194.7 165.8 L194.4 164.6 L194.1 163.4 L193.9 162.3 L193.6 161.3 L193.4 160.2 L193.3 159.1 L193.1 158.0 L193.0 156.8 L192.9 155.7 L192.8 154.6 L192.7 153.4 L192.7 152.3 L192.7 151.2 L192.7 150.1 L192.8 149.0 L192.9 148.0 L193.0 147.0 L193.2 146.0 L193.3 145.0 L193.5 144.1 L193.8 143.1 L194.0 142.2 L194.3 141.3 L194.7 140.5 L195.1 139.7 L195.5 139.0 L196.0 138.4 L196.6 137.9 L197.2 137.4 L197.9 136.9 L198.6 136.6 L199.4 136.3 L200.2 136.0 L201.1 135.8 L201.9 135.6 L202.8 135.5 L203.6 135.4 L204.4 135.3 L205.3 135.3 L206.2 135.4 L207.1 135.5 L208.1 135.6 L209.0 135.8 L209.9 136.0 L210.8 136.2 L211.7 136.5 L212.6 136.8 L213.5 137.1 L214.3 137.5 L215.2 137.9 L216.0 138.3 L216.8 138.7 L217.7 139.2 L218.5 139.8 L219.3 140.5 L220.2 141.2 L221.0 142.0 L221.9 143.0 L222.8 144.1 L223.7 145.3 L224.6 146.6 L225.5 147.9 L226.4 149.3 L227.3 150.6 L228.1 151.9 L228.8 153.0 L229.5 154.0 L230.0 154.7 L230.4 155.2 L230.6 155.5 L230.8 155.7 L231.0 155.9 L231.2 156.2 L231.6 156.6 L232.1 157.4 L232.7 158.5 L233.7 160.0 L235.0 162.1 L236.5 164.6 L238.3 167.6 L240.2 170.8 L242.2 174.1 L244.3 177.6 L246.3 181.0 L248.3 184.3 L250.0 187.3 L251.6 190.0 L252.9 192.4 L254.1 194.6 L255.2 196.6 L256.2 198.5 L257.2 200.3 L258.1 202.1 L259.0 203.9 L260.0 205.8 L261.1 207.8 L262.2 210.0 L263.4 212.3 L264.7 214.7 L266.0 217.1 L267.4 219.6 L268.8 222.2 L270.2 224.8 L271.6 227.3 L272.9 229.9 L274.3 232.5 L275.7 235.0 L277.1 237.5 L278.5 240.1 L279.9 242.7 L281.3 245.2 L282.7 247.8 L284.1 250.4 L285.4 252.9 L286.8 255.3 L288.1 257.7 L289.3 260.0 L290.5 262.2 L291.6 264.4 L292.7 266.5 L293.8 268.6 L294.8 270.6 L295.8 272.5 L296.8 274.5 L297.8 276.3 L298.8 278.2 L299.8 280.0 L300.8 281.8 L301.7 283.5 L302.6 285.1 L303.5 286.8 L304.4 288.3 L305.3 289.9 L306.1 291.4 L307.1 293.0 L308.0 294.5 L309.0 296.0 L310.0 297.6 L311.1 299.2 L312.2 300.8 L313.4 302.4 L314.5 304.0 L315.7 305.6 L316.8 307.0 L317.9 308.3 L319.0 309.5 L320.0 310.5 L321.0 311.3 L322.0 312.0 L322.9 312.5 L323.8 312.9 L324.8 313.2 L325.6 313.5 L326.5 313.6 L327.4 313.8 L328.2 313.9 L329.0 314.0 L329.8 314.1 L330.5 314.1 L331.2 314.1 L331.9 314.1 L332.6 314.0 L333.3 313.8 L334.0 313.7 L334.6 313.5 L335.3 313.2 L336.0 313.0 L336.7 312.7 L337.4 312.5 L338.2 312.2 L338.9 311.9 L339.7 311.5 L340.4 311.1 L341.1 310.7 L341.8 310.2 L342.4 309.6 L343.0 309.0 L343.5 308.3 L344.0 307.5 L344.5 306.7 L344.9 305.8 L345.3 304.9 L345.7 303.9 L346.1 303.0 L346.4 302.0 L346.7 301.0 L347.0 300.0 L347.2 299.1 L347.5 298.2 L347.6 297.3 L347.8 296.4 L347.9 295.5 L348.0 294.5 L348.1 293.4 L348.2 292.3 L348.3 291.1 L348.4 289.7 L348.5 288.1 L348.6 286.4 L348.7 284.5 L348.8 282.5 L348.9 280.4 L348.9 278.3 L349.0 276.3 L349.1 274.4 L349.3 272.6 L349.4 271.0 L349.6 269.6 L349.7 268.2 L349.9 267.0 L350.1 265.8 L350.3 264.7 L350.5 263.6 L350.7 262.6 L350.9 261.7 L351.2 260.7 L351.5 259.8 L351.8 258.9 L352.1 258.1 L352.4 257.3 L352.7 256.5 L353.1 255.8 L353.4 255.1 L353.8 254.5 L354.3 253.8 L354.8 253.2 L355.4 252.5 L356.1 251.8 L356.8 251.2 L357.5 250.5 L358.3 249.9 L359.2 249.2 L360.1 248.6 L361.0 248.0 L361.9 247.4 L362.9 246.9 L363.9 246.4 L364.9 245.9 L365.9 245.5 L367.0 245.1 L368.1 244.7 L369.2 244.3 L370.3 244.0 L371.5 243.7 L372.7 243.4 L374.0 243.1 L375.3 242.8 L376.7 242.5 L378.1 242.3 L379.7 242.0 L381.2 241.8 L382.8 241.6 L384.4 241.4 L386.0 241.2 L387.5 241.1 L388.9 241.0 L390.3 241.0 L391.6 241.0 L392.8 241.1 L393.9 241.2 L395.1 241.4 L396.1 241.5 L397.2 241.7 L398.3 241.9 L399.3 242.1 L400.4 242.3 L401.5 242.5" fill="none" stroke="#174a94" stroke-opacity="0.24" stroke-width="25" stroke-dasharray="0.9 1.9"/>
</g>


<!-- hose clamp -->
<path d="M335.3 267.4 Q349 270.6 362.5 268.2 L362.5 275.8 Q349 278.4 335.3 275 Z" fill="#9fb3cc"/>
<path d="M335.3 269 Q349 272.2 362.5 269.8" fill="none" stroke="#dfe6ee" stroke-width="1.1"/>
<path d="M335.3 271.6 Q349 274.8 362.5 272.4" fill="none" stroke="#4f78b0" stroke-width="1"/>
<path d="M335.3 274 Q349 277.2 362.5 274.8" fill="none" stroke="#d5dde8" stroke-width="1"/>

<!-- ===== forearm ===== -->
<g id="forearm">
<polygon points="366,263 394.6,266.2 440,270.2 480,274.2 600,286 630,289.4 688,294.1 688,312.9 630,311.6 600,309 480,299 420,295.1 383,290.8 366,288.4" fill="#52c24a"/>
<polygon points="394.5,271.9 420,274.7 440,276.6 480,280.3 600,291.7 630,295 688,298.4 688,304.8 630,300.5 600,297.4 480,286.6 440,284 420,282.2 394.5,280.3" fill="#fff"/>
<polygon points="366,285.4 394.5,288 480,295.2 600,305.8 630,308.6 688,310.4 688,312.9 630,311.6 600,309 480,299 420,295.1 383,290.8 366,288.4" fill="#3c9f30" fill-opacity="0.5"/>
<polygon points="366,263 370,263.4 370,288.6 366,288.2" fill="#3c9f30"/>
<circle cx="389.8" cy="267.3" r="1.3" fill="#1d4d18"/><circle cx="390.3" cy="285" r="1.3" fill="#1d4d18"/>
<rect x="380.6" y="289.4" width="2.8" height="2.6" fill="#2c6a25"/>
<line x1="443.6" y1="277" x2="444" y2="284.2" stroke="#3a4a38" stroke-width="1.4"/>
<!-- cylinder + foot -->
<polygon points="650,312 656,312.6 656.5,320.5 649.5,320" fill="#47b038"/>
<line x1="656" y1="318.4" x2="687" y2="327.7" stroke="#3d4a3b" stroke-width="2"/>
<polygon points="670,321.5 696,328 696,333 670,325" fill="#45ad36"/>
</g>

<!-- joint plate -->
<polygon points="687.9,292 696,291.4 696,325 687.9,324" fill="#3a9a2f"/>
<polygon points="695.6,291.2 714.3,292.5 714.6,343 696.2,337.5" fill="#52c049"/>
<g fill="#1f5a1a"><circle cx="702" cy="298.5" r="1"/><circle cx="703" cy="311" r="1"/><circle cx="705.5" cy="331" r="1"/></g>
<!-- black block -->
<polygon points="714.3,299.8 745.4,299.8 745.4,336 714.3,336" fill="#151515"/>
<polygon points="716,336 745,336 745,340 722,341" fill="#3b3b3b"/>

<!-- main arm -->
<g id="mainarm">
<polygon points="745.4,303.2 820,306 890,309.4 978,311.4 978,339.5 870,338.6 745.4,337.6" fill="url(#garm)"/>
<polygon points="869.8,304.3 882.3,304.8 882.3,341 869.8,340.8" fill="#49b43a"/>
<line x1="870.2" y1="304.5" x2="870.2" y2="340.8" stroke="#2f8a27" stroke-width="0.8"/>
<line x1="882" y1="305" x2="882" y2="341" stroke="#6fce5c" stroke-width="0.8"/>
<polygon points="977.9,308.6 991,309 991,340 977.9,339.8" fill="#4ab33f"/>
<line x1="978.2" y1="309" x2="978.2" y2="340" stroke="#2f8a27" stroke-width="0.8"/>
</g>
<!-- hinge blocks -->
<g fill="#1c1c1c">
<rect x="994.6" y="300" width="7" height="17.4"/><rect x="995.6" y="321" width="6" height="8"/><rect x="994.6" y="332" width="7" height="16"/>
<rect x="997.5" y="303" width="4" height="43"/>
<rect x="990" y="310.3" width="6" height="2.2"/><rect x="990" y="335.6" width="6" height="2.2"/>
<rect x="993.4" y="301.5" width="2" height="1.6"/><rect x="993.4" y="322.5" width="2.4" height="1.6"/><rect x="993.4" y="345" width="2" height="1.6"/>
</g>
<!-- ===== column ===== -->
<g id="column">
<polygon points="1000.4,295.7 1014.6,295.7 1021.7,390 1023,456 1028,525 1042,557 1001.5,556.5 1010.5,525 1009.8,456 1004.5,390" fill="url(#gcol)"/>
<polygon points="1013,296 1014.6,295.7 1021.7,390 1023,456 1028,525 1042,557 1036,557 1024,525 1019.5,456 1018,390" fill="#3b9c30" fill-opacity="0.6"/>
<!-- base plate -->
<polygon points="997,553 994.3,560.5 1005,567 1051.5,566 1043,556.5 1001.5,556.5" fill="#3d4a3a"/>
<polygon points="999,552 1041,552.5 1047,562.5 998,562" fill="#45ad37"/>
<polygon points="994.5,560.5 1005,567 1051.5,566 1047,562.5 998,562" fill="#4a5547"/>
<!-- platform -->
<polygon points="986,417.2 1049,416.9 1059.2,417 1059.8,423.9 986.6,424.3" fill="#64875f"/>
<polygon points="986,417.2 1059.2,417 1059.3,418.6 986.1,418.9" fill="#4a6a47"/>
<line x1="991" y1="421.2" x2="1005" y2="421.1" stroke="#c9d8c6" stroke-width="1.5"/>
<line x1="1023" y1="421" x2="1046" y2="420.8" stroke="#b9cbb6" stroke-width="1.5"/>
<line x1="1030" y1="419.4" x2="1044" y2="419.3" stroke="#3e573c" stroke-width="0.9"/>
<polygon points="1049.6,415.6 1058.8,415.4 1059.4,423.6 1050,423.8" fill="#6f946b"/>
<rect x="1052" y="417.4" width="5" height="3.6" fill="#a9c3a6"/>
<rect x="1039" y="415.6" width="2.4" height="2" fill="#5a7a57"/>
<polygon points="981.4,420.2 986.4,419.8 986.6,423.4 981.6,423.2" fill="#8f9a8d"/>
<polygon points="986.8,423.8 1060,423.3 1060.2,428.3 987.6,429" fill="#57c551"/>
<polygon points="1006.3,414.6 1021.7,414.6 1021.9,423.4 1006.4,423.6" fill="#4cb845"/>
<polygon points="1006.3,417.6 1021.7,417.6 1021.7,418.8 1006.3,418.8" fill="#3a9635"/>
<polygon points="1006.4,422.6 1021.9,422.4 1021.9,423.8 1006.4,424" fill="#2f7a2c"/>
<!-- gusset -->
<polygon points="1006,428.8 1025.6,428.4 1022.8,456 1010,456" fill="#49b340"/>
<polygon points="1009.6,430 1013.4,430 1015,452" fill="#2d7d25"/>
<polygon points="1010.6,430.6 1012.2,430.6 1014.8,448" fill="#bfe3bb"/>
<polygon points="1016.5,430 1021,430 1016.6,452" fill="#2d7d25"/>
<polygon points="1019,430.6 1020.4,430.6 1017,448" fill="#bfe3bb"/>
</g>

<!-- pump -->
<g id="pump">
<path d="M988 486 Q987 493 990 500 Q996 513 1011 524.5" fill="none" stroke="#1f1f1f" stroke-width="2"/>
<polygon points="992,500.5 1011,500.5 1011,512 1004,505.5 992,503.5" fill="#45ae37"/>
<path d="M987 485.5 Q987.5 480.5 993 479.6 L1005 479 Q1009.5 479.4 1010 484 L1010 500 L992 500.5 Q988.5 497 987 485.5 Z" fill="#4a4d4a"/>
<ellipse cx="1000.5" cy="492" rx="8.2" ry="6.8" fill="#e6e8e6"/>
<path d="M995 495.5 Q1001 498 1006.5 494.5" fill="none" stroke="#b9bcb9" stroke-width="1.2"/>
<path d="M988.5 484 Q997 479 1009 481.5" fill="none" stroke="#222" stroke-width="2.4"/>
<path d="M993 487 Q1000 484.5 1007 487" fill="none" stroke="#6c8a6c" stroke-width="1"/>
</g>

<!-- ===== hood ===== -->
<g id="hood">
<polygon points="243.4,326 262,337 267.6,342.6 272.6,340 273.8,334 273.6,326" fill="#2a6dc0"/>
<path d="M241 327.6 L267 342.4" stroke="#9fb4cc" stroke-width="2" fill="none"/>
<path d="M239 330.4 L266.2 344.4 L266.5 351 L262 357 L236 344 Z" fill="#262626"/>
<polygon points="209,334.2 211,332.6 232,332.6 233.6,337.6 210,338.4" fill="#2e2e2e"/>
<polygon points="213,334 229.6,333.8 230.6,336.2 213.6,336.8" fill="#9a9a9a"/>
<path d="M205.5 342.2 Q206.5 338.6 209.6 336 L233 337 L240 340 L264 351 Q271 362 275.2 373 Q275.6 377.6 270 378.4 Q258 376 247 371.4 Q236 367.2 227.6 362.6 Q215 355 207 346.6 Q205 344.6 205.5 342.2 Z" fill="url(#ghood)"/>
<path d="M238 349 L264 351 Q271 362 275.2 373 Q275.6 377.6 270 378.4 Q258 376 250 372.6 Z" fill="#3c3c3c" fill-opacity="0.6"/>
</g>

<!-- ===== wire feeder ===== -->
<g id="feeder">
<!-- bracket -->
<path d="M506.9 299 L506.9 364 Q506.9 377.2 494 377.2 L452 377.2" fill="none" stroke="#45b037" stroke-width="6.6"/>
<path d="M432 377.5 L490 374.6" fill="none" stroke="#45b037" stroke-width="2.6"/>
<rect x="451" y="374" width="3" height="6.6" fill="#b94a3a"/>
<polygon points="498,296 516,297 513,304 500,303" fill="#45b037"/>
<!-- spool -->
<ellipse cx="477.2" cy="347.3" rx="18.2" ry="21.4" fill="#1d1d1d"/>
<ellipse cx="478.5" cy="346.5" rx="9.5" ry="11.5" fill="#2f2f2f"/>
<ellipse cx="478.5" cy="346.5" rx="5.5" ry="6.5" fill="#141414"/>
<path d="M484 331 L491 334 L487 340 Z" fill="#e8e8e8"/>
<path d="M477 352 L481 356" stroke="#ddd" stroke-width="1.2"/>
<!-- red body -->
<polygon points="415.7,348.7 429,339.9 455.6,330.3 458.5,331.8 461,350 464.4,372.4 430.4,375.3 417,372.4" fill="#d3202b"/>
<polygon points="415.7,348.7 429,339.9 432,344 431,374 417,372.4" fill="#a5131f"/>
<polygon points="432.6,346 446,340.6 455.8,344 456.4,369.6 436,372 432.4,366" fill="#7a1a20"/>
<polygon points="435,348.4 446,344 453.6,348.4 454.6,368 437.4,370.2" fill="#d3d3cf"/>
<polygon points="440,359 452,356 454.4,367.6 441,369.8" fill="#5b6f5c"/>
<polygon points="436,350 441,348 442,358 437,360" fill="#8d8f8c"/>
<rect x="418" y="352" width="6" height="6" fill="#e7c7c8"/>
<!-- connector -->
<polygon points="407.6,361 427.5,360.6 427.5,365.7 407.6,365.2" fill="#c21c2a"/>
<path d="M395 369.6 Q401 365 408 363" fill="none" stroke="#2a2a2a" stroke-width="3"/>
<path d="M406 366 Q403 374 410 376 Q418 377 424 372" fill="none" stroke="#222" stroke-width="1.6"/>
<path d="M413 366 Q412 372 419 373" fill="none" stroke="#222" stroke-width="1.4"/>
<!-- loop -->
<path d="M406.7 364 Q396 368 391.7 374.3 Q384 384 382.4 393 Q378 405 378.7 415.3 Q378.6 426 380.5 434 Q382.5 443 386 449 Q390 454 395.5 453.6 Q401 453 404.8 449 Q409.5 442 412.3 432 Q415.5 422 417 411.6 L419.7 393 L421.8 385" fill="none" stroke="#222" stroke-width="2.2"/>
<!-- torch cable -->
<path d="M423.3 384 L424.3 470 L424.3 519" fill="none" stroke="#3a3a3a" stroke-width="2.4"/>
<path d="M424.3 470 L424.3 519" fill="none" stroke="#8a6a6a" stroke-width="1" stroke-dasharray="1 2"/>
<path d="M421 519 Q424 516.5 427.4 519 L427.8 545 Q424.5 547.5 420.8 545 Z" fill="#c4223b"/>
<path d="M424.6 546 Q426 554 434.5 563" fill="none" stroke="#3a2a2a" stroke-width="2.2"/>
<path d="M430.5 558.5 L434.8 563.4" fill="none" stroke="#b88a6a" stroke-width="2.4"/>
<!-- pendant -->
<line x1="481.4" y1="380" x2="481.6" y2="452" stroke="#333" stroke-width="1.1"/>
<rect x="479.6" y="451" width="3.6" height="14.5" fill="#4a4a4a"/>
<rect x="475" y="464.6" width="12" height="21.6" rx="1.8" fill="#f2d53c"/>
<rect x="475" y="464.6" width="4" height="21.6" rx="1.8" fill="#f7e36a"/>
<!-- hook -->
<path d="M418 378 L425 386 M420 384 L428 380" stroke="#777" stroke-width="1" fill="none"/>
</g>

<!-- ===== labels ===== -->
<g id="labels">
<text x="70.0" y="110.8" font-size="19.5" textLength="310.6" lengthAdjust="spacingAndGlyphs">flexible suction arm 3m otates360°</text>
<text x="311.0" y="192.4" font-size="17.2" textLength="206.6" lengthAdjust="spacingAndGlyphs">Spiral air pipe galvanized</text>
<text x="308.0" y="215.8" font-size="17.2" textLength="213.2" lengthAdjust="spacingAndGlyphs">material diameter 150mm</text>
<text x="589.5" y="165.6" font-size="18.1" textLength="197.6" lengthAdjust="spacingAndGlyphs">The rotating arm is 0.4m</text>
<text x="547.5" y="188.4" font-size="18.1" textLength="278.4" lengthAdjust="spacingAndGlyphs">can be folded left and right before</text>
<text x="566.0" y="211.5" font-size="18.1" textLength="243.2" lengthAdjust="spacingAndGlyphs">afterthe rotation Angle of 320</text>
<text x="877.0" y="222.5" font-size="18.6" textLength="187.6" lengthAdjust="spacingAndGlyphs">main arm length 3.7m</text>
<text x="799.5" y="246.5" font-size="18.6" textLength="340.6" lengthAdjust="spacingAndGlyphs">baseassembly length can be customized</text>
<text x="869.0" y="270.4" font-size="18.6" textLength="203.6" lengthAdjust="spacingAndGlyphs">rotation angle180°-210°</text>
<text x="559.5" y="353.6" font-size="17.5" textLength="105.2" lengthAdjust="spacingAndGlyphs">5 ton cylinder</text>
<text x="750.5" y="371.4" font-size="18.2" textLength="45.7" lengthAdjust="spacingAndGlyphs">spool</text>
<text x="1046.0" y="361.4" font-size="20" textLength="66.2" lengthAdjust="spacingAndGlyphs">upright</text>
<text x="535.0" y="414.2" font-size="18.4" textLength="153.2" lengthAdjust="spacingAndGlyphs">forearm length 3m</text>
<text x="499.0" y="437.6" font-size="18.4" textLength="225.8" lengthAdjust="spacingAndGlyphs">design bearing more stable</text>
<text x="502.0" y="460.6" font-size="18.4" textLength="220.0" lengthAdjust="spacingAndGlyphs">forearm lifttravel 2.5-2.8 m</text>
<text x="779.5" y="423.6" font-size="19.6" textLength="190.4" lengthAdjust="spacingAndGlyphs">welding machine base</text>
<text x="679.5" y="500.1" font-size="20.4" textLength="287.6" lengthAdjust="spacingAndGlyphs">wireless electric hydraulic pump</text>
<text x="865.0" y="555" font-size="19.6" textLength="106.8" lengthAdjust="spacingAndGlyphs">column base</text>
<text x="138.0" y="404.0" font-size="21.6" textLength="125.6" lengthAdjust="spacingAndGlyphs">suction hood</text>
<text x="118.5" y="431.0" font-size="21.6" textLength="166.0" lengthAdjust="spacingAndGlyphs">diameter 140mm</text>
<text x="222.5" y="497.3" font-size="19.5" textLength="164.0" lengthAdjust="spacingAndGlyphs">wire feeder bracket</text>
<text x="242.5" y="521" font-size="19.5" textLength="123.8" lengthAdjust="spacingAndGlyphs">load 80-120kg</text>
</g>

<!-- leader lines -->
<g class="ld">
<line x1="247" y1="112" x2="226.5" y2="126"/>
<line x1="432.5" y1="219.2" x2="495" y2="264"/>
<line x1="444" y1="289" x2="607" y2="403"/>
<line x1="689" y1="213" x2="724" y2="302"/>
<line x1="986.5" y1="271.5" x2="900" y2="324.5"/>
<line x1="608" y1="340" x2="671" y2="326.5"/>
<line x1="747.5" y1="369" x2="716" y2="342.3"/>
<line x1="1013" y1="356.4" x2="1041" y2="355.2"/>
<line x1="970" y1="420.2" x2="986" y2="422"/>
<line x1="967" y1="493.1" x2="988.5" y2="492.4"/>
<line x1="977.3" y1="553" x2="998" y2="553"/>
<line x1="206.5" y1="388" x2="231.5" y2="364"/>
<line x1="304.5" y1="479.3" x2="429" y2="383.6"/>
</g>
</svg>
</body>
</html>
